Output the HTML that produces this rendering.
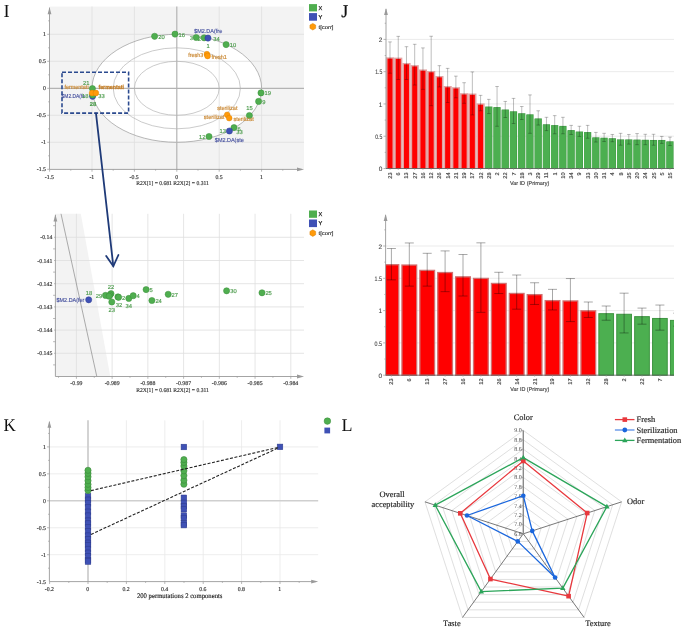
<!DOCTYPE html>
<html><head><meta charset="utf-8"><style>
html,body{margin:0;padding:0;background:#fff;}
svg{display:block;will-change:transform;} text{text-rendering:geometricPrecision;}
</style></head><body>
<svg width="685" height="630" viewBox="0 0 685 630">
<rect width="685" height="630" fill="#fff"/>
<rect x="49.50" y="6.60" width="254.50" height="162.80" fill="#f3f3f3"/>
<ellipse cx="176.80" cy="88.30" rx="84.8" ry="54" fill="#fff"/>
<line x1="92.00" y1="6.60" x2="92.00" y2="169.40" stroke="#dedede" stroke-width="0.8"/>
<line x1="49.50" y1="142.30" x2="304.00" y2="142.30" stroke="#dedede" stroke-width="0.8"/>
<line x1="134.40" y1="6.60" x2="134.40" y2="169.40" stroke="#dedede" stroke-width="0.8"/>
<line x1="49.50" y1="115.30" x2="304.00" y2="115.30" stroke="#dedede" stroke-width="0.8"/>
<line x1="219.20" y1="6.60" x2="219.20" y2="169.40" stroke="#dedede" stroke-width="0.8"/>
<line x1="49.50" y1="61.30" x2="304.00" y2="61.30" stroke="#dedede" stroke-width="0.8"/>
<line x1="261.60" y1="6.60" x2="261.60" y2="169.40" stroke="#dedede" stroke-width="0.8"/>
<line x1="49.50" y1="34.30" x2="304.00" y2="34.30" stroke="#dedede" stroke-width="0.8"/>
<ellipse cx="176.80" cy="88.30" rx="84.8" ry="54" fill="none" stroke="#9a9a9a" stroke-width="0.7"/>
<ellipse cx="176.80" cy="88.30" rx="63.60" ry="40.50" fill="none" stroke="#a8a8a8" stroke-width="0.6"/>
<ellipse cx="176.80" cy="88.30" rx="42.40" ry="27.00" fill="none" stroke="#a8a8a8" stroke-width="0.6"/>
<line x1="176.80" y1="6.60" x2="176.80" y2="169.40" stroke="#b3b3b3" stroke-width="1.2"/>
<line x1="49.50" y1="88.30" x2="304.00" y2="88.30" stroke="#b3b3b3" stroke-width="1.2"/>
<line x1="49.50" y1="7.60" x2="49.50" y2="169.40" stroke="#9a9a9a" stroke-width="0.9"/>
<line x1="49.50" y1="169.40" x2="302.00" y2="169.40" stroke="#9a9a9a" stroke-width="0.9"/>
<polygon points="49.50,7.30 47.60,14.30 51.40,14.30" fill="#9a9a9a"/>
<polygon points="304.00,169.40 297.00,167.50 297.00,171.30" fill="#9a9a9a"/>
<line x1="47.20" y1="169.30" x2="49.50" y2="169.30" stroke="#9a9a9a" stroke-width="0.7"/>
<line x1="48.20" y1="155.80" x2="49.50" y2="155.80" stroke="#9a9a9a" stroke-width="0.7"/>
<line x1="47.20" y1="142.30" x2="49.50" y2="142.30" stroke="#9a9a9a" stroke-width="0.7"/>
<line x1="48.20" y1="128.80" x2="49.50" y2="128.80" stroke="#9a9a9a" stroke-width="0.7"/>
<line x1="47.20" y1="115.30" x2="49.50" y2="115.30" stroke="#9a9a9a" stroke-width="0.7"/>
<line x1="48.20" y1="101.80" x2="49.50" y2="101.80" stroke="#9a9a9a" stroke-width="0.7"/>
<line x1="47.20" y1="88.30" x2="49.50" y2="88.30" stroke="#9a9a9a" stroke-width="0.7"/>
<line x1="48.20" y1="74.80" x2="49.50" y2="74.80" stroke="#9a9a9a" stroke-width="0.7"/>
<line x1="47.20" y1="61.30" x2="49.50" y2="61.30" stroke="#9a9a9a" stroke-width="0.7"/>
<line x1="48.20" y1="47.80" x2="49.50" y2="47.80" stroke="#9a9a9a" stroke-width="0.7"/>
<line x1="47.20" y1="34.30" x2="49.50" y2="34.30" stroke="#9a9a9a" stroke-width="0.7"/>
<line x1="48.20" y1="20.80" x2="49.50" y2="20.80" stroke="#9a9a9a" stroke-width="0.7"/>
<line x1="49.60" y1="169.40" x2="49.60" y2="171.70" stroke="#9a9a9a" stroke-width="0.7"/>
<line x1="70.80" y1="169.40" x2="70.80" y2="170.70" stroke="#9a9a9a" stroke-width="0.7"/>
<line x1="92.00" y1="169.40" x2="92.00" y2="171.70" stroke="#9a9a9a" stroke-width="0.7"/>
<line x1="113.20" y1="169.40" x2="113.20" y2="170.70" stroke="#9a9a9a" stroke-width="0.7"/>
<line x1="134.40" y1="169.40" x2="134.40" y2="171.70" stroke="#9a9a9a" stroke-width="0.7"/>
<line x1="155.60" y1="169.40" x2="155.60" y2="170.70" stroke="#9a9a9a" stroke-width="0.7"/>
<line x1="176.80" y1="169.40" x2="176.80" y2="171.70" stroke="#9a9a9a" stroke-width="0.7"/>
<line x1="198.00" y1="169.40" x2="198.00" y2="170.70" stroke="#9a9a9a" stroke-width="0.7"/>
<line x1="219.20" y1="169.40" x2="219.20" y2="171.70" stroke="#9a9a9a" stroke-width="0.7"/>
<line x1="240.40" y1="169.40" x2="240.40" y2="170.70" stroke="#9a9a9a" stroke-width="0.7"/>
<line x1="261.60" y1="169.40" x2="261.60" y2="171.70" stroke="#9a9a9a" stroke-width="0.7"/>
<line x1="282.80" y1="169.40" x2="282.80" y2="170.70" stroke="#9a9a9a" stroke-width="0.7"/>
<text x="46.00" y="36.46" font-family='"Liberation Serif", serif' font-size="5.8" fill="#333" text-anchor="end" stroke="#333" stroke-width="0.15">1</text>
<text x="46.00" y="63.46" font-family='"Liberation Serif", serif' font-size="5.8" fill="#333" text-anchor="end" stroke="#333" stroke-width="0.15">0.5</text>
<text x="46.00" y="90.46" font-family='"Liberation Serif", serif' font-size="5.8" fill="#333" text-anchor="end" stroke="#333" stroke-width="0.15">0</text>
<text x="46.00" y="117.46" font-family='"Liberation Serif", serif' font-size="5.8" fill="#333" text-anchor="end" stroke="#333" stroke-width="0.15">-0.5</text>
<text x="46.00" y="144.46" font-family='"Liberation Serif", serif' font-size="5.8" fill="#333" text-anchor="end" stroke="#333" stroke-width="0.15">-1</text>
<text x="46.00" y="171.46" font-family='"Liberation Serif", serif' font-size="5.8" fill="#333" text-anchor="end" stroke="#333" stroke-width="0.15">-1.5</text>
<text x="49.40" y="178.76" font-family='"Liberation Serif", serif' font-size="5.8" fill="#333" text-anchor="middle" stroke="#333" stroke-width="0.15">-1.5</text>
<text x="91.80" y="178.76" font-family='"Liberation Serif", serif' font-size="5.8" fill="#333" text-anchor="middle" stroke="#333" stroke-width="0.15">-1</text>
<text x="134.20" y="178.76" font-family='"Liberation Serif", serif' font-size="5.8" fill="#333" text-anchor="middle" stroke="#333" stroke-width="0.15">-0.5</text>
<text x="176.60" y="178.76" font-family='"Liberation Serif", serif' font-size="5.8" fill="#333" text-anchor="middle" stroke="#333" stroke-width="0.15">0</text>
<text x="219.00" y="178.76" font-family='"Liberation Serif", serif' font-size="5.8" fill="#333" text-anchor="middle" stroke="#333" stroke-width="0.15">0.5</text>
<text x="261.40" y="178.76" font-family='"Liberation Serif", serif' font-size="5.8" fill="#333" text-anchor="middle" stroke="#333" stroke-width="0.15">1</text>
<text x="172.50" y="184.76" font-family='"Liberation Serif", serif' font-size="5.8" fill="#333" text-anchor="middle" stroke="#333" stroke-width="0.15" textLength="72.7" lengthAdjust="spacingAndGlyphs">R2X[1] = 0.681 R2X[2] = 0.311</text>
<rect x="309.00" y="4.10" width="8.00" height="7.30" fill="#4fae4f"/>
<text x="318.50" y="9.59" font-family='"Liberation Sans", sans-serif' font-size="5.6" fill="#222" text-anchor="start" stroke="#222" stroke-width="0.25">X</text>
<rect x="309.00" y="13.10" width="8.00" height="7.60" fill="#3f51b5"/>
<text x="318.50" y="18.69" font-family='"Liberation Sans", sans-serif' font-size="5.6" fill="#222" text-anchor="start" stroke="#222" stroke-width="0.25">Y</text>
<polygon points="312.80,30.00 309.94,28.35 309.94,25.05 312.80,23.40 315.66,25.05 315.66,28.35" fill="#ff9a0a" stroke="#d97f00" stroke-width="0.5"/>
<text x="318.50" y="28.60" font-family='"Liberation Sans", sans-serif' font-size="5.3" fill="#333" text-anchor="start" stroke="#333" stroke-width="0.15" textLength="15" lengthAdjust="spacingAndGlyphs">t[corr]</text>
<circle cx="154.60" cy="36.30" r="3.1" fill="#4fae4f" stroke="#3b8f3b" stroke-width="0.5"/>
<text x="158.30" y="39.06" font-family='"Liberation Sans", sans-serif' font-size="5.8" fill="#4a9a4a" text-anchor="start" stroke="#4a9a4a" stroke-width="0.15">20</text>
<circle cx="175.00" cy="34.10" r="3.1" fill="#4fae4f" stroke="#3b8f3b" stroke-width="0.5"/>
<text x="178.60" y="36.86" font-family='"Liberation Sans", sans-serif' font-size="5.8" fill="#4a9a4a" text-anchor="start" stroke="#4a9a4a" stroke-width="0.15">16</text>
<text x="193.00" y="39.86" font-family='"Liberation Sans", sans-serif' font-size="5.8" fill="#4a9a4a" text-anchor="end" stroke="#4a9a4a" stroke-width="0.15">3</text>
<text x="199.40" y="41.06" font-family='"Liberation Sans", sans-serif' font-size="5.8" fill="#4a9a4a" text-anchor="middle" stroke="#4a9a4a" stroke-width="0.15">2</text>
<circle cx="196.20" cy="37.50" r="3.1" fill="#4fae4f" stroke="#3b8f3b" stroke-width="0.5"/>
<circle cx="204.10" cy="37.80" r="3.1" fill="#4fae4f" stroke="#3b8f3b" stroke-width="0.5"/>
<text x="213.30" y="40.66" font-family='"Liberation Sans", sans-serif' font-size="5.8" fill="#4a9a4a" text-anchor="start" stroke="#4a9a4a" stroke-width="0.15">34</text>
<circle cx="208.00" cy="38.10" r="3.1" fill="#3f51b5" stroke="#2f3f95" stroke-width="0.5"/>
<text x="208.20" y="32.76" font-family='"Liberation Sans", sans-serif' font-size="5.8" fill="#45509e" text-anchor="middle" stroke="#45509e" stroke-width="0.15" textLength="28" lengthAdjust="spacingAndGlyphs">$M2.DA(fre</text>
<text x="208.10" y="47.86" font-family='"Liberation Sans", sans-serif' font-size="5.8" fill="#4a9a4a" text-anchor="middle" stroke="#4a9a4a" stroke-width="0.15">1</text>
<circle cx="226.10" cy="44.60" r="3.1" fill="#4fae4f" stroke="#3b8f3b" stroke-width="0.5"/>
<text x="229.70" y="47.16" font-family='"Liberation Sans", sans-serif' font-size="5.8" fill="#4a9a4a" text-anchor="start" stroke="#4a9a4a" stroke-width="0.15">10</text>
<text x="203.20" y="56.56" font-family='"Liberation Sans", sans-serif' font-size="5.8" fill="#c9862f" text-anchor="end" stroke="#c9862f" stroke-width="0.15" textLength="15" lengthAdjust="spacingAndGlyphs">fresh3</text>
<text x="211.50" y="59.16" font-family='"Liberation Sans", sans-serif' font-size="5.8" fill="#c9862f" text-anchor="start" stroke="#c9862f" stroke-width="0.15" textLength="15.4" lengthAdjust="spacingAndGlyphs">fresh1</text>
<circle cx="206.90" cy="54.20" r="2.9" fill="#ff9a0a" stroke="#d97f00" stroke-width="0.4"/>
<circle cx="207.60" cy="56.00" r="2.9" fill="#ff9a0a" stroke="#d97f00" stroke-width="0.4"/>
<circle cx="261.00" cy="92.90" r="3.1" fill="#4fae4f" stroke="#3b8f3b" stroke-width="0.5"/>
<text x="264.60" y="95.46" font-family='"Liberation Sans", sans-serif' font-size="5.8" fill="#4a9a4a" text-anchor="start" stroke="#4a9a4a" stroke-width="0.15">19</text>
<circle cx="258.60" cy="101.40" r="3.1" fill="#4fae4f" stroke="#3b8f3b" stroke-width="0.5"/>
<text x="262.20" y="103.96" font-family='"Liberation Sans", sans-serif' font-size="5.8" fill="#4a9a4a" text-anchor="start" stroke="#4a9a4a" stroke-width="0.15">9</text>
<text x="249.40" y="110.46" font-family='"Liberation Sans", sans-serif' font-size="5.8" fill="#4a9a4a" text-anchor="middle" stroke="#4a9a4a" stroke-width="0.15">15</text>
<circle cx="249.40" cy="115.50" r="3.1" fill="#4fae4f" stroke="#3b8f3b" stroke-width="0.5"/>
<text x="227.30" y="110.06" font-family='"Liberation Sans", sans-serif' font-size="5.8" fill="#c9862f" text-anchor="middle" stroke="#c9862f" stroke-width="0.15" textLength="20.3" lengthAdjust="spacingAndGlyphs">sterilizat</text>
<text x="224.40" y="118.66" font-family='"Liberation Sans", sans-serif' font-size="5.8" fill="#c9862f" text-anchor="end" stroke="#c9862f" stroke-width="0.15" textLength="20.6" lengthAdjust="spacingAndGlyphs">sterilizat</text>
<text x="233.40" y="120.66" font-family='"Liberation Sans", sans-serif' font-size="5.8" fill="#c9862f" text-anchor="start" stroke="#c9862f" stroke-width="0.15" textLength="20.3" lengthAdjust="spacingAndGlyphs">sterilizat</text>
<circle cx="227.20" cy="114.80" r="2.9" fill="#ff9a0a" stroke="#d97f00" stroke-width="0.4"/>
<circle cx="229.20" cy="118.10" r="2.9" fill="#ff9a0a" stroke="#d97f00" stroke-width="0.4"/>
<text x="237.50" y="131.46" font-family='"Liberation Sans", sans-serif' font-size="5.8" fill="#4a9a4a" text-anchor="start" stroke="#4a9a4a" stroke-width="0.15">6</text>
<circle cx="234.00" cy="127.60" r="3.1" fill="#4fae4f" stroke="#3b8f3b" stroke-width="0.5"/>
<text x="226.00" y="133.36" font-family='"Liberation Sans", sans-serif' font-size="5.8" fill="#4a9a4a" text-anchor="end" stroke="#4a9a4a" stroke-width="0.15">13</text>
<text x="236.30" y="133.86" font-family='"Liberation Sans", sans-serif' font-size="5.8" fill="#4a9a4a" text-anchor="start" stroke="#4a9a4a" stroke-width="0.15">33</text>
<circle cx="229.40" cy="131.00" r="3.1" fill="#3f51b5" stroke="#2f3f95" stroke-width="0.5"/>
<text x="205.50" y="138.66" font-family='"Liberation Sans", sans-serif' font-size="5.8" fill="#4a9a4a" text-anchor="end" stroke="#4a9a4a" stroke-width="0.15">12</text>
<circle cx="209.00" cy="136.50" r="3.1" fill="#4fae4f" stroke="#3b8f3b" stroke-width="0.5"/>
<text x="229.30" y="142.16" font-family='"Liberation Sans", sans-serif' font-size="5.8" fill="#45509e" text-anchor="middle" stroke="#45509e" stroke-width="0.15" textLength="28.9" lengthAdjust="spacingAndGlyphs">$M2.DA(ste</text>
<text x="86.30" y="84.96" font-family='"Liberation Sans", sans-serif' font-size="5.8" fill="#4a9a4a" text-anchor="middle" stroke="#4a9a4a" stroke-width="0.15">21</text>
<text x="88.60" y="89.16" font-family='"Liberation Sans", sans-serif' font-size="5.8" fill="#c9862f" text-anchor="end" stroke="#c9862f" stroke-width="0.15" textLength="24.2" lengthAdjust="spacingAndGlyphs">fermentati</text>
<text x="98.40" y="89.16" font-family='"Liberation Sans", sans-serif' font-size="5.8" fill="#c47f28" text-anchor="start" font-weight="bold" stroke="#c47f28" stroke-width="0.3" textLength="25.5" lengthAdjust="spacingAndGlyphs">fermentati</text>
<text x="61.60" y="98.16" font-family='"Liberation Sans", sans-serif' font-size="5.8" fill="#45509e" text-anchor="start" stroke="#45509e" stroke-width="0.15" textLength="23.5" lengthAdjust="spacingAndGlyphs">$M2.DA(fe</text>
<text x="85.30" y="98.26" font-family='"Liberation Sans", sans-serif' font-size="5.8" fill="#4a9a4a" text-anchor="middle" stroke="#4a9a4a" stroke-width="0.15">18</text>
<text x="98.20" y="98.46" font-family='"Liberation Sans", sans-serif' font-size="5.8" fill="#4a9a4a" text-anchor="start" stroke="#4a9a4a" stroke-width="0.15">33</text>
<text x="93.00" y="105.96" font-family='"Liberation Sans", sans-serif' font-size="5.8" fill="#4a9a4a" text-anchor="middle" font-weight="bold" stroke="#4a9a4a" stroke-width="0.15">28</text>
<circle cx="92.40" cy="88.60" r="3.1" fill="#4fae4f" stroke="#3b8f3b" stroke-width="0.5"/>
<circle cx="92.60" cy="96.30" r="3.1" fill="#3f51b5" stroke="#2f3f95" stroke-width="0.5"/>
<circle cx="92.70" cy="95.00" r="3.1" fill="#4fae4f" stroke="#3b8f3b" stroke-width="0.5"/>
<circle cx="92.10" cy="93.00" r="2.9" fill="#ff9a0a" stroke="#d97f00" stroke-width="0.4"/>
<circle cx="95.90" cy="93.00" r="2.9" fill="#ff9a0a" stroke="#d97f00" stroke-width="0.4"/>
<rect x="62.0" y="72.2" width="66.6" height="40.9" fill="none" stroke="#2b4a8f" stroke-width="1.6" stroke-dasharray="4,2"/>
<polygon points="55.4,213.8 80.8,213.8 110.3,376.5 55.4,376.5" fill="#f3f3f3"/>
<line x1="76.40" y1="213.80" x2="76.40" y2="376.50" stroke="#dedede" stroke-width="0.8"/>
<line x1="112.13" y1="213.80" x2="112.13" y2="376.50" stroke="#dedede" stroke-width="0.8"/>
<line x1="147.87" y1="213.80" x2="147.87" y2="376.50" stroke="#dedede" stroke-width="0.8"/>
<line x1="183.60" y1="213.80" x2="183.60" y2="376.50" stroke="#dedede" stroke-width="0.8"/>
<line x1="219.33" y1="213.80" x2="219.33" y2="376.50" stroke="#dedede" stroke-width="0.8"/>
<line x1="255.07" y1="213.80" x2="255.07" y2="376.50" stroke="#dedede" stroke-width="0.8"/>
<line x1="290.80" y1="213.80" x2="290.80" y2="376.50" stroke="#dedede" stroke-width="0.8"/>
<line x1="55.40" y1="237.30" x2="304.00" y2="237.30" stroke="#dedede" stroke-width="0.8"/>
<line x1="55.40" y1="260.50" x2="304.00" y2="260.50" stroke="#dedede" stroke-width="0.8"/>
<line x1="55.40" y1="283.70" x2="304.00" y2="283.70" stroke="#dedede" stroke-width="0.8"/>
<line x1="55.40" y1="306.90" x2="304.00" y2="306.90" stroke="#dedede" stroke-width="0.8"/>
<line x1="55.40" y1="330.10" x2="304.00" y2="330.10" stroke="#dedede" stroke-width="0.8"/>
<line x1="55.40" y1="353.30" x2="304.00" y2="353.30" stroke="#dedede" stroke-width="0.8"/>
<line x1="61.00" y1="213.80" x2="96.80" y2="376.50" stroke="#8a8a8a" stroke-width="0.7"/>
<line x1="55.40" y1="214.80" x2="55.40" y2="376.50" stroke="#9a9a9a" stroke-width="0.9"/>
<line x1="55.40" y1="376.50" x2="302.00" y2="376.50" stroke="#9a9a9a" stroke-width="0.9"/>
<polygon points="55.40,214.50 53.50,221.50 57.30,221.50" fill="#9a9a9a"/>
<polygon points="304.00,376.50 297.00,374.60 297.00,378.40" fill="#9a9a9a"/>
<line x1="53.10" y1="225.70" x2="55.40" y2="225.70" stroke="#9a9a9a" stroke-width="0.7"/>
<line x1="54.10" y1="237.30" x2="55.40" y2="237.30" stroke="#9a9a9a" stroke-width="0.7"/>
<line x1="53.10" y1="248.90" x2="55.40" y2="248.90" stroke="#9a9a9a" stroke-width="0.7"/>
<line x1="54.10" y1="260.50" x2="55.40" y2="260.50" stroke="#9a9a9a" stroke-width="0.7"/>
<line x1="53.10" y1="272.10" x2="55.40" y2="272.10" stroke="#9a9a9a" stroke-width="0.7"/>
<line x1="54.10" y1="283.70" x2="55.40" y2="283.70" stroke="#9a9a9a" stroke-width="0.7"/>
<line x1="53.10" y1="295.30" x2="55.40" y2="295.30" stroke="#9a9a9a" stroke-width="0.7"/>
<line x1="54.10" y1="306.90" x2="55.40" y2="306.90" stroke="#9a9a9a" stroke-width="0.7"/>
<line x1="53.10" y1="318.50" x2="55.40" y2="318.50" stroke="#9a9a9a" stroke-width="0.7"/>
<line x1="54.10" y1="330.10" x2="55.40" y2="330.10" stroke="#9a9a9a" stroke-width="0.7"/>
<line x1="53.10" y1="341.70" x2="55.40" y2="341.70" stroke="#9a9a9a" stroke-width="0.7"/>
<line x1="54.10" y1="353.30" x2="55.40" y2="353.30" stroke="#9a9a9a" stroke-width="0.7"/>
<line x1="53.10" y1="364.90" x2="55.40" y2="364.90" stroke="#9a9a9a" stroke-width="0.7"/>
<line x1="58.53" y1="376.50" x2="58.53" y2="377.80" stroke="#9a9a9a" stroke-width="0.7"/>
<line x1="76.40" y1="376.50" x2="76.40" y2="378.80" stroke="#9a9a9a" stroke-width="0.7"/>
<line x1="94.27" y1="376.50" x2="94.27" y2="377.80" stroke="#9a9a9a" stroke-width="0.7"/>
<line x1="112.13" y1="376.50" x2="112.13" y2="378.80" stroke="#9a9a9a" stroke-width="0.7"/>
<line x1="130.00" y1="376.50" x2="130.00" y2="377.80" stroke="#9a9a9a" stroke-width="0.7"/>
<line x1="147.86" y1="376.50" x2="147.86" y2="378.80" stroke="#9a9a9a" stroke-width="0.7"/>
<line x1="165.73" y1="376.50" x2="165.73" y2="377.80" stroke="#9a9a9a" stroke-width="0.7"/>
<line x1="183.60" y1="376.50" x2="183.60" y2="378.80" stroke="#9a9a9a" stroke-width="0.7"/>
<line x1="201.46" y1="376.50" x2="201.46" y2="377.80" stroke="#9a9a9a" stroke-width="0.7"/>
<line x1="219.33" y1="376.50" x2="219.33" y2="378.80" stroke="#9a9a9a" stroke-width="0.7"/>
<line x1="237.19" y1="376.50" x2="237.19" y2="377.80" stroke="#9a9a9a" stroke-width="0.7"/>
<line x1="255.06" y1="376.50" x2="255.06" y2="378.80" stroke="#9a9a9a" stroke-width="0.7"/>
<line x1="272.93" y1="376.50" x2="272.93" y2="377.80" stroke="#9a9a9a" stroke-width="0.7"/>
<line x1="290.79" y1="376.50" x2="290.79" y2="378.80" stroke="#9a9a9a" stroke-width="0.7"/>
<text x="52.30" y="239.46" font-family='"Liberation Serif", serif' font-size="5.8" fill="#333" text-anchor="end" stroke="#333" stroke-width="0.15">-0.14</text>
<text x="52.30" y="262.66" font-family='"Liberation Serif", serif' font-size="5.8" fill="#333" text-anchor="end" stroke="#333" stroke-width="0.15">-0.141</text>
<text x="52.30" y="285.86" font-family='"Liberation Serif", serif' font-size="5.8" fill="#333" text-anchor="end" stroke="#333" stroke-width="0.15">-0.142</text>
<text x="52.30" y="309.06" font-family='"Liberation Serif", serif' font-size="5.8" fill="#333" text-anchor="end" stroke="#333" stroke-width="0.15">-0.143</text>
<text x="52.30" y="332.26" font-family='"Liberation Serif", serif' font-size="5.8" fill="#333" text-anchor="end" stroke="#333" stroke-width="0.15">-0.144</text>
<text x="52.30" y="355.46" font-family='"Liberation Serif", serif' font-size="5.8" fill="#333" text-anchor="end" stroke="#333" stroke-width="0.15">-0.145</text>
<text x="76.40" y="384.96" font-family='"Liberation Serif", serif' font-size="5.8" fill="#333" text-anchor="middle" stroke="#333" stroke-width="0.15">-0.99</text>
<text x="112.13" y="384.96" font-family='"Liberation Serif", serif' font-size="5.8" fill="#333" text-anchor="middle" stroke="#333" stroke-width="0.15">-0.989</text>
<text x="147.87" y="384.96" font-family='"Liberation Serif", serif' font-size="5.8" fill="#333" text-anchor="middle" stroke="#333" stroke-width="0.15">-0.988</text>
<text x="183.60" y="384.96" font-family='"Liberation Serif", serif' font-size="5.8" fill="#333" text-anchor="middle" stroke="#333" stroke-width="0.15">-0.987</text>
<text x="219.33" y="384.96" font-family='"Liberation Serif", serif' font-size="5.8" fill="#333" text-anchor="middle" stroke="#333" stroke-width="0.15">-0.986</text>
<text x="255.07" y="384.96" font-family='"Liberation Serif", serif' font-size="5.8" fill="#333" text-anchor="middle" stroke="#333" stroke-width="0.15">-0.985</text>
<text x="290.80" y="384.96" font-family='"Liberation Serif", serif' font-size="5.8" fill="#333" text-anchor="middle" stroke="#333" stroke-width="0.15">-0.984</text>
<text x="172.50" y="392.06" font-family='"Liberation Serif", serif' font-size="5.8" fill="#333" text-anchor="middle" stroke="#333" stroke-width="0.15" textLength="72.7" lengthAdjust="spacingAndGlyphs">R2X[1] = 0.681 R2X[2] = 0.311</text>
<rect x="309.00" y="210.50" width="8.00" height="7.30" fill="#4fae4f"/>
<text x="318.50" y="215.99" font-family='"Liberation Sans", sans-serif' font-size="5.6" fill="#222" text-anchor="start" stroke="#222" stroke-width="0.25">X</text>
<rect x="309.00" y="219.50" width="8.00" height="7.60" fill="#3f51b5"/>
<text x="318.50" y="225.09" font-family='"Liberation Sans", sans-serif' font-size="5.6" fill="#222" text-anchor="start" stroke="#222" stroke-width="0.25">Y</text>
<polygon points="312.80,236.40 309.94,234.75 309.94,231.45 312.80,229.80 315.66,231.45 315.66,234.75" fill="#ff9a0a" stroke="#d97f00" stroke-width="0.5"/>
<text x="318.50" y="235.00" font-family='"Liberation Sans", sans-serif' font-size="5.3" fill="#333" text-anchor="start" stroke="#333" stroke-width="0.15" textLength="15" lengthAdjust="spacingAndGlyphs">t[corr]</text>
<text x="84.30" y="301.86" font-family='"Liberation Sans", sans-serif' font-size="5.8" fill="#45509e" text-anchor="end" stroke="#45509e" stroke-width="0.15" textLength="27.7" lengthAdjust="spacingAndGlyphs">$M2.DA(fer</text>
<text x="89.10" y="294.66" font-family='"Liberation Sans", sans-serif' font-size="5.8" fill="#4a9a4a" text-anchor="middle" stroke="#4a9a4a" stroke-width="0.15">18</text>
<circle cx="88.70" cy="299.80" r="3.1" fill="#3f51b5" stroke="#2f3f95" stroke-width="0.5"/>
<text x="102.30" y="297.86" font-family='"Liberation Sans", sans-serif' font-size="5.8" fill="#4a9a4a" text-anchor="end" stroke="#4a9a4a" stroke-width="0.15">29</text>
<text x="111.00" y="288.56" font-family='"Liberation Sans", sans-serif' font-size="5.8" fill="#4a9a4a" text-anchor="middle" stroke="#4a9a4a" stroke-width="0.15">22</text>
<text x="111.80" y="311.86" font-family='"Liberation Sans", sans-serif' font-size="5.8" fill="#4a9a4a" text-anchor="middle" stroke="#4a9a4a" stroke-width="0.15">23</text>
<text x="119.00" y="306.86" font-family='"Liberation Sans", sans-serif' font-size="5.8" fill="#4a9a4a" text-anchor="middle" stroke="#4a9a4a" stroke-width="0.15">32</text>
<text x="122.00" y="299.66" font-family='"Liberation Sans", sans-serif' font-size="5.8" fill="#4a9a4a" text-anchor="start" stroke="#4a9a4a" stroke-width="0.15">2</text>
<text x="128.80" y="308.36" font-family='"Liberation Sans", sans-serif' font-size="5.8" fill="#4a9a4a" text-anchor="middle" stroke="#4a9a4a" stroke-width="0.15">34</text>
<text x="136.40" y="298.16" font-family='"Liberation Sans", sans-serif' font-size="5.8" fill="#4a9a4a" text-anchor="start" stroke="#4a9a4a" stroke-width="0.15">4</text>
<text x="149.40" y="292.16" font-family='"Liberation Sans", sans-serif' font-size="5.8" fill="#4a9a4a" text-anchor="start" stroke="#4a9a4a" stroke-width="0.15">5</text>
<text x="155.40" y="303.16" font-family='"Liberation Sans", sans-serif' font-size="5.8" fill="#4a9a4a" text-anchor="start" stroke="#4a9a4a" stroke-width="0.15">24</text>
<text x="171.60" y="296.86" font-family='"Liberation Sans", sans-serif' font-size="5.8" fill="#4a9a4a" text-anchor="start" stroke="#4a9a4a" stroke-width="0.15">27</text>
<text x="230.20" y="293.26" font-family='"Liberation Sans", sans-serif' font-size="5.8" fill="#4a9a4a" text-anchor="start" stroke="#4a9a4a" stroke-width="0.15">30</text>
<text x="265.40" y="295.26" font-family='"Liberation Sans", sans-serif' font-size="5.8" fill="#4a9a4a" text-anchor="start" stroke="#4a9a4a" stroke-width="0.15">25</text>
<circle cx="105.50" cy="295.40" r="3.1" fill="#4fae4f" stroke="#3b8f3b" stroke-width="0.5"/>
<circle cx="111.00" cy="293.70" r="3.1" fill="#4fae4f" stroke="#3b8f3b" stroke-width="0.5"/>
<circle cx="109.90" cy="295.00" r="3.1" fill="#4fae4f" stroke="#3b8f3b" stroke-width="0.5"/>
<circle cx="109.10" cy="296.20" r="3.1" fill="#4fae4f" stroke="#3b8f3b" stroke-width="0.5"/>
<circle cx="111.80" cy="302.00" r="3.1" fill="#4fae4f" stroke="#3b8f3b" stroke-width="0.5"/>
<circle cx="117.90" cy="296.90" r="3.1" fill="#4fae4f" stroke="#3b8f3b" stroke-width="0.5"/>
<circle cx="118.60" cy="297.30" r="3.1" fill="#4fae4f" stroke="#3b8f3b" stroke-width="0.5"/>
<circle cx="128.80" cy="298.40" r="3.1" fill="#4fae4f" stroke="#3b8f3b" stroke-width="0.5"/>
<circle cx="133.20" cy="295.70" r="3.1" fill="#4fae4f" stroke="#3b8f3b" stroke-width="0.5"/>
<circle cx="146.10" cy="289.60" r="3.1" fill="#4fae4f" stroke="#3b8f3b" stroke-width="0.5"/>
<circle cx="151.90" cy="300.50" r="3.1" fill="#4fae4f" stroke="#3b8f3b" stroke-width="0.5"/>
<circle cx="168.20" cy="294.30" r="3.1" fill="#4fae4f" stroke="#3b8f3b" stroke-width="0.5"/>
<circle cx="226.60" cy="290.80" r="3.1" fill="#4fae4f" stroke="#3b8f3b" stroke-width="0.5"/>
<circle cx="262.00" cy="292.80" r="3.1" fill="#4fae4f" stroke="#3b8f3b" stroke-width="0.5"/>
<line x1="96.00" y1="113.40" x2="113.30" y2="266.00" stroke="#1f3a78" stroke-width="1.8" stroke-linecap="round"/>
<polyline points="106.2,256.0 113.3,266.3 118.4,255.0" fill="none" stroke="#1f3a78" stroke-width="1.8" stroke-linecap="round" stroke-linejoin="miter"/>
<line x1="386.00" y1="136.22" x2="674.00" y2="136.22" stroke="#e6e6e6" stroke-width="0.8"/>
<line x1="386.00" y1="103.95" x2="674.00" y2="103.95" stroke="#e6e6e6" stroke-width="0.8"/>
<line x1="386.00" y1="71.68" x2="674.00" y2="71.68" stroke="#e6e6e6" stroke-width="0.8"/>
<line x1="386.00" y1="39.40" x2="674.00" y2="39.40" stroke="#e6e6e6" stroke-width="0.8"/>
<rect x="385.90" y="57.30" width="8.20" height="111.20" fill="#e2a4a4"/>
<rect x="387.50" y="58.60" width="5.00" height="109.90" fill="#ff0000"/>
<rect x="394.13" y="57.63" width="8.20" height="110.87" fill="#e2a4a4"/>
<rect x="395.74" y="58.93" width="5.00" height="109.57" fill="#ff0000"/>
<rect x="402.37" y="62.98" width="8.20" height="105.52" fill="#e2a4a4"/>
<rect x="403.97" y="64.28" width="5.00" height="104.22" fill="#ff0000"/>
<rect x="410.60" y="65.11" width="8.20" height="103.39" fill="#e2a4a4"/>
<rect x="412.20" y="66.41" width="5.00" height="102.09" fill="#ff0000"/>
<rect x="418.84" y="69.44" width="8.20" height="99.06" fill="#e2a4a4"/>
<rect x="420.44" y="70.74" width="5.00" height="97.76" fill="#ff0000"/>
<rect x="427.07" y="70.99" width="8.20" height="97.51" fill="#e2a4a4"/>
<rect x="428.68" y="72.29" width="5.00" height="96.21" fill="#ff0000"/>
<rect x="435.31" y="76.02" width="8.20" height="92.48" fill="#e2a4a4"/>
<rect x="436.91" y="77.32" width="5.00" height="91.18" fill="#ff0000"/>
<rect x="443.54" y="86.03" width="8.20" height="82.47" fill="#e2a4a4"/>
<rect x="445.14" y="87.33" width="5.00" height="81.17" fill="#ff0000"/>
<rect x="451.78" y="87.19" width="8.20" height="81.31" fill="#e2a4a4"/>
<rect x="453.38" y="88.49" width="5.00" height="80.01" fill="#ff0000"/>
<rect x="460.01" y="93.19" width="8.20" height="75.31" fill="#e2a4a4"/>
<rect x="461.62" y="94.49" width="5.00" height="74.01" fill="#ff0000"/>
<rect x="468.25" y="93.52" width="8.20" height="74.98" fill="#e2a4a4"/>
<rect x="469.85" y="94.82" width="5.00" height="73.68" fill="#ff0000"/>
<rect x="476.48" y="103.39" width="8.20" height="65.11" fill="#e2a4a4"/>
<rect x="478.08" y="104.69" width="5.00" height="63.81" fill="#ff0000"/>
<rect x="485.22" y="106.53" width="7.20" height="61.97" fill="#3f9a43"/>
<rect x="485.22" y="107.13" width="6.60" height="61.37" fill="#4caf50"/>
<rect x="493.45" y="107.11" width="7.20" height="61.39" fill="#3f9a43"/>
<rect x="493.45" y="107.71" width="6.60" height="60.79" fill="#4caf50"/>
<rect x="501.69" y="109.50" width="7.20" height="59.00" fill="#3f9a43"/>
<rect x="501.69" y="110.10" width="6.60" height="58.40" fill="#4caf50"/>
<rect x="509.92" y="111.31" width="7.20" height="57.19" fill="#3f9a43"/>
<rect x="509.92" y="111.91" width="6.60" height="56.59" fill="#4caf50"/>
<rect x="518.16" y="113.25" width="7.20" height="55.25" fill="#3f9a43"/>
<rect x="518.16" y="113.85" width="6.60" height="54.65" fill="#4caf50"/>
<rect x="526.39" y="114.34" width="7.20" height="54.16" fill="#3f9a43"/>
<rect x="526.39" y="114.94" width="6.60" height="53.56" fill="#4caf50"/>
<rect x="534.63" y="118.41" width="7.20" height="50.09" fill="#3f9a43"/>
<rect x="534.63" y="119.01" width="6.60" height="49.49" fill="#4caf50"/>
<rect x="542.86" y="124.28" width="7.20" height="44.22" fill="#3f9a43"/>
<rect x="542.86" y="124.88" width="6.60" height="43.62" fill="#4caf50"/>
<rect x="551.10" y="125.12" width="7.20" height="43.38" fill="#3f9a43"/>
<rect x="551.10" y="125.72" width="6.60" height="42.78" fill="#4caf50"/>
<rect x="559.33" y="125.90" width="7.20" height="42.60" fill="#3f9a43"/>
<rect x="559.33" y="126.50" width="6.60" height="42.00" fill="#4caf50"/>
<rect x="567.57" y="130.09" width="7.20" height="38.41" fill="#3f9a43"/>
<rect x="567.57" y="130.69" width="6.60" height="37.81" fill="#4caf50"/>
<rect x="575.80" y="131.51" width="7.20" height="36.99" fill="#3f9a43"/>
<rect x="575.80" y="132.11" width="6.60" height="36.39" fill="#4caf50"/>
<rect x="584.04" y="132.09" width="7.20" height="36.41" fill="#3f9a43"/>
<rect x="584.04" y="132.69" width="6.60" height="35.81" fill="#4caf50"/>
<rect x="592.27" y="137.32" width="7.20" height="31.18" fill="#3f9a43"/>
<rect x="592.27" y="137.92" width="6.60" height="30.58" fill="#4caf50"/>
<rect x="600.51" y="137.71" width="7.20" height="30.79" fill="#3f9a43"/>
<rect x="600.51" y="138.31" width="6.60" height="30.19" fill="#4caf50"/>
<rect x="608.75" y="138.23" width="7.20" height="30.27" fill="#3f9a43"/>
<rect x="608.75" y="138.83" width="6.60" height="29.67" fill="#4caf50"/>
<rect x="616.98" y="139.39" width="7.20" height="29.11" fill="#3f9a43"/>
<rect x="616.98" y="139.99" width="6.60" height="28.51" fill="#4caf50"/>
<rect x="625.22" y="139.39" width="7.20" height="29.11" fill="#3f9a43"/>
<rect x="625.22" y="139.99" width="6.60" height="28.51" fill="#4caf50"/>
<rect x="633.45" y="139.58" width="7.20" height="28.92" fill="#3f9a43"/>
<rect x="633.45" y="140.18" width="6.60" height="28.32" fill="#4caf50"/>
<rect x="641.68" y="139.78" width="7.20" height="28.72" fill="#3f9a43"/>
<rect x="641.68" y="140.38" width="6.60" height="28.12" fill="#4caf50"/>
<rect x="649.92" y="139.97" width="7.20" height="28.53" fill="#3f9a43"/>
<rect x="649.92" y="140.57" width="6.60" height="27.93" fill="#4caf50"/>
<rect x="658.15" y="139.97" width="7.20" height="28.53" fill="#3f9a43"/>
<rect x="658.15" y="140.57" width="6.60" height="27.93" fill="#4caf50"/>
<rect x="666.39" y="141.32" width="7.20" height="27.18" fill="#3f9a43"/>
<rect x="666.39" y="141.92" width="6.60" height="26.58" fill="#4caf50"/>
<line x1="390.00" y1="41.92" x2="390.00" y2="73.22" stroke="rgba(0,0,0,0.33)" stroke-width="0.8"/>
<line x1="388.20" y1="41.92" x2="391.80" y2="41.92" stroke="rgba(0,0,0,0.33)" stroke-width="0.8"/>
<line x1="388.20" y1="73.22" x2="391.80" y2="73.22" stroke="rgba(0,0,0,0.33)" stroke-width="0.8"/>
<line x1="398.24" y1="36.37" x2="398.24" y2="79.49" stroke="rgba(0,0,0,0.33)" stroke-width="0.8"/>
<line x1="396.44" y1="36.37" x2="400.04" y2="36.37" stroke="rgba(0,0,0,0.33)" stroke-width="0.8"/>
<line x1="396.44" y1="79.49" x2="400.04" y2="79.49" stroke="rgba(0,0,0,0.33)" stroke-width="0.8"/>
<line x1="406.47" y1="46.69" x2="406.47" y2="79.49" stroke="rgba(0,0,0,0.33)" stroke-width="0.8"/>
<line x1="404.67" y1="46.69" x2="408.27" y2="46.69" stroke="rgba(0,0,0,0.33)" stroke-width="0.8"/>
<line x1="404.67" y1="79.49" x2="408.27" y2="79.49" stroke="rgba(0,0,0,0.33)" stroke-width="0.8"/>
<line x1="414.70" y1="44.31" x2="414.70" y2="85.04" stroke="rgba(0,0,0,0.33)" stroke-width="0.8"/>
<line x1="412.90" y1="44.31" x2="416.50" y2="44.31" stroke="rgba(0,0,0,0.33)" stroke-width="0.8"/>
<line x1="412.90" y1="85.04" x2="416.50" y2="85.04" stroke="rgba(0,0,0,0.33)" stroke-width="0.8"/>
<line x1="422.94" y1="47.92" x2="422.94" y2="89.36" stroke="rgba(0,0,0,0.33)" stroke-width="0.8"/>
<line x1="421.14" y1="47.92" x2="424.74" y2="47.92" stroke="rgba(0,0,0,0.33)" stroke-width="0.8"/>
<line x1="421.14" y1="89.36" x2="424.74" y2="89.36" stroke="rgba(0,0,0,0.33)" stroke-width="0.8"/>
<line x1="431.18" y1="36.24" x2="431.18" y2="105.69" stroke="rgba(0,0,0,0.33)" stroke-width="0.8"/>
<line x1="429.38" y1="36.24" x2="432.98" y2="36.24" stroke="rgba(0,0,0,0.33)" stroke-width="0.8"/>
<line x1="429.38" y1="105.69" x2="432.98" y2="105.69" stroke="rgba(0,0,0,0.33)" stroke-width="0.8"/>
<line x1="439.41" y1="65.67" x2="439.41" y2="86.91" stroke="rgba(0,0,0,0.33)" stroke-width="0.8"/>
<line x1="437.61" y1="65.67" x2="441.21" y2="65.67" stroke="rgba(0,0,0,0.33)" stroke-width="0.8"/>
<line x1="437.61" y1="86.91" x2="441.21" y2="86.91" stroke="rgba(0,0,0,0.33)" stroke-width="0.8"/>
<line x1="447.64" y1="68.38" x2="447.64" y2="102.53" stroke="rgba(0,0,0,0.33)" stroke-width="0.8"/>
<line x1="445.84" y1="68.38" x2="449.44" y2="68.38" stroke="rgba(0,0,0,0.33)" stroke-width="0.8"/>
<line x1="445.84" y1="102.53" x2="449.44" y2="102.53" stroke="rgba(0,0,0,0.33)" stroke-width="0.8"/>
<line x1="455.88" y1="76.13" x2="455.88" y2="97.82" stroke="rgba(0,0,0,0.33)" stroke-width="0.8"/>
<line x1="454.08" y1="76.13" x2="457.68" y2="76.13" stroke="rgba(0,0,0,0.33)" stroke-width="0.8"/>
<line x1="454.08" y1="97.82" x2="457.68" y2="97.82" stroke="rgba(0,0,0,0.33)" stroke-width="0.8"/>
<line x1="464.12" y1="82.71" x2="464.12" y2="103.30" stroke="rgba(0,0,0,0.33)" stroke-width="0.8"/>
<line x1="462.31" y1="82.71" x2="465.92" y2="82.71" stroke="rgba(0,0,0,0.33)" stroke-width="0.8"/>
<line x1="462.31" y1="103.30" x2="465.92" y2="103.30" stroke="rgba(0,0,0,0.33)" stroke-width="0.8"/>
<line x1="472.35" y1="71.93" x2="472.35" y2="114.92" stroke="rgba(0,0,0,0.33)" stroke-width="0.8"/>
<line x1="470.55" y1="71.93" x2="474.15" y2="71.93" stroke="rgba(0,0,0,0.33)" stroke-width="0.8"/>
<line x1="470.55" y1="114.92" x2="474.15" y2="114.92" stroke="rgba(0,0,0,0.33)" stroke-width="0.8"/>
<line x1="480.58" y1="95.36" x2="480.58" y2="110.79" stroke="rgba(0,0,0,0.33)" stroke-width="0.8"/>
<line x1="478.78" y1="95.36" x2="482.38" y2="95.36" stroke="rgba(0,0,0,0.33)" stroke-width="0.8"/>
<line x1="478.78" y1="110.79" x2="482.38" y2="110.79" stroke="rgba(0,0,0,0.33)" stroke-width="0.8"/>
<line x1="488.82" y1="99.37" x2="488.82" y2="113.57" stroke="rgba(0,0,0,0.33)" stroke-width="0.8"/>
<line x1="487.02" y1="99.37" x2="490.62" y2="99.37" stroke="rgba(0,0,0,0.33)" stroke-width="0.8"/>
<line x1="487.02" y1="113.57" x2="490.62" y2="113.57" stroke="rgba(0,0,0,0.33)" stroke-width="0.8"/>
<line x1="497.06" y1="86.52" x2="497.06" y2="126.28" stroke="rgba(0,0,0,0.33)" stroke-width="0.8"/>
<line x1="495.25" y1="86.52" x2="498.86" y2="86.52" stroke="rgba(0,0,0,0.33)" stroke-width="0.8"/>
<line x1="495.25" y1="126.28" x2="498.86" y2="126.28" stroke="rgba(0,0,0,0.33)" stroke-width="0.8"/>
<line x1="505.29" y1="101.43" x2="505.29" y2="117.51" stroke="rgba(0,0,0,0.33)" stroke-width="0.8"/>
<line x1="503.49" y1="101.43" x2="507.09" y2="101.43" stroke="rgba(0,0,0,0.33)" stroke-width="0.8"/>
<line x1="503.49" y1="117.51" x2="507.09" y2="117.51" stroke="rgba(0,0,0,0.33)" stroke-width="0.8"/>
<line x1="513.52" y1="98.40" x2="513.52" y2="123.51" stroke="rgba(0,0,0,0.33)" stroke-width="0.8"/>
<line x1="511.72" y1="98.40" x2="515.32" y2="98.40" stroke="rgba(0,0,0,0.33)" stroke-width="0.8"/>
<line x1="511.72" y1="123.51" x2="515.32" y2="123.51" stroke="rgba(0,0,0,0.33)" stroke-width="0.8"/>
<line x1="521.76" y1="106.53" x2="521.76" y2="119.51" stroke="rgba(0,0,0,0.33)" stroke-width="0.8"/>
<line x1="519.96" y1="106.53" x2="523.56" y2="106.53" stroke="rgba(0,0,0,0.33)" stroke-width="0.8"/>
<line x1="519.96" y1="119.51" x2="523.56" y2="119.51" stroke="rgba(0,0,0,0.33)" stroke-width="0.8"/>
<line x1="530.00" y1="94.91" x2="530.00" y2="133.32" stroke="rgba(0,0,0,0.33)" stroke-width="0.8"/>
<line x1="528.20" y1="94.91" x2="531.79" y2="94.91" stroke="rgba(0,0,0,0.33)" stroke-width="0.8"/>
<line x1="528.20" y1="133.32" x2="531.79" y2="133.32" stroke="rgba(0,0,0,0.33)" stroke-width="0.8"/>
<line x1="538.23" y1="110.79" x2="538.23" y2="125.06" stroke="rgba(0,0,0,0.33)" stroke-width="0.8"/>
<line x1="536.43" y1="110.79" x2="540.03" y2="110.79" stroke="rgba(0,0,0,0.33)" stroke-width="0.8"/>
<line x1="536.43" y1="125.06" x2="540.03" y2="125.06" stroke="rgba(0,0,0,0.33)" stroke-width="0.8"/>
<line x1="546.46" y1="117.31" x2="546.46" y2="130.61" stroke="rgba(0,0,0,0.33)" stroke-width="0.8"/>
<line x1="544.66" y1="117.31" x2="548.26" y2="117.31" stroke="rgba(0,0,0,0.33)" stroke-width="0.8"/>
<line x1="544.66" y1="130.61" x2="548.26" y2="130.61" stroke="rgba(0,0,0,0.33)" stroke-width="0.8"/>
<line x1="554.70" y1="115.63" x2="554.70" y2="133.77" stroke="rgba(0,0,0,0.33)" stroke-width="0.8"/>
<line x1="552.90" y1="115.63" x2="556.50" y2="115.63" stroke="rgba(0,0,0,0.33)" stroke-width="0.8"/>
<line x1="552.90" y1="133.77" x2="556.50" y2="133.77" stroke="rgba(0,0,0,0.33)" stroke-width="0.8"/>
<line x1="562.93" y1="117.31" x2="562.93" y2="133.77" stroke="rgba(0,0,0,0.33)" stroke-width="0.8"/>
<line x1="561.13" y1="117.31" x2="564.73" y2="117.31" stroke="rgba(0,0,0,0.33)" stroke-width="0.8"/>
<line x1="561.13" y1="133.77" x2="564.73" y2="133.77" stroke="rgba(0,0,0,0.33)" stroke-width="0.8"/>
<line x1="571.17" y1="125.38" x2="571.17" y2="134.48" stroke="rgba(0,0,0,0.33)" stroke-width="0.8"/>
<line x1="569.37" y1="125.38" x2="572.97" y2="125.38" stroke="rgba(0,0,0,0.33)" stroke-width="0.8"/>
<line x1="569.37" y1="134.48" x2="572.97" y2="134.48" stroke="rgba(0,0,0,0.33)" stroke-width="0.8"/>
<line x1="579.40" y1="126.28" x2="579.40" y2="136.42" stroke="rgba(0,0,0,0.33)" stroke-width="0.8"/>
<line x1="577.61" y1="126.28" x2="581.20" y2="126.28" stroke="rgba(0,0,0,0.33)" stroke-width="0.8"/>
<line x1="577.61" y1="136.42" x2="581.20" y2="136.42" stroke="rgba(0,0,0,0.33)" stroke-width="0.8"/>
<line x1="587.64" y1="125.38" x2="587.64" y2="138.23" stroke="rgba(0,0,0,0.33)" stroke-width="0.8"/>
<line x1="585.84" y1="125.38" x2="589.44" y2="125.38" stroke="rgba(0,0,0,0.33)" stroke-width="0.8"/>
<line x1="585.84" y1="138.23" x2="589.44" y2="138.23" stroke="rgba(0,0,0,0.33)" stroke-width="0.8"/>
<line x1="595.88" y1="132.42" x2="595.88" y2="142.03" stroke="rgba(0,0,0,0.33)" stroke-width="0.8"/>
<line x1="594.08" y1="132.42" x2="597.67" y2="132.42" stroke="rgba(0,0,0,0.33)" stroke-width="0.8"/>
<line x1="594.08" y1="142.03" x2="597.67" y2="142.03" stroke="rgba(0,0,0,0.33)" stroke-width="0.8"/>
<line x1="604.11" y1="133.32" x2="604.11" y2="141.52" stroke="rgba(0,0,0,0.33)" stroke-width="0.8"/>
<line x1="602.31" y1="133.32" x2="605.91" y2="133.32" stroke="rgba(0,0,0,0.33)" stroke-width="0.8"/>
<line x1="602.31" y1="141.52" x2="605.91" y2="141.52" stroke="rgba(0,0,0,0.33)" stroke-width="0.8"/>
<line x1="612.35" y1="134.48" x2="612.35" y2="141.71" stroke="rgba(0,0,0,0.33)" stroke-width="0.8"/>
<line x1="610.55" y1="134.48" x2="614.14" y2="134.48" stroke="rgba(0,0,0,0.33)" stroke-width="0.8"/>
<line x1="610.55" y1="141.71" x2="614.14" y2="141.71" stroke="rgba(0,0,0,0.33)" stroke-width="0.8"/>
<line x1="620.58" y1="133.32" x2="620.58" y2="145.20" stroke="rgba(0,0,0,0.33)" stroke-width="0.8"/>
<line x1="618.78" y1="133.32" x2="622.38" y2="133.32" stroke="rgba(0,0,0,0.33)" stroke-width="0.8"/>
<line x1="618.78" y1="145.20" x2="622.38" y2="145.20" stroke="rgba(0,0,0,0.33)" stroke-width="0.8"/>
<line x1="628.82" y1="134.48" x2="628.82" y2="144.10" stroke="rgba(0,0,0,0.33)" stroke-width="0.8"/>
<line x1="627.02" y1="134.48" x2="630.62" y2="134.48" stroke="rgba(0,0,0,0.33)" stroke-width="0.8"/>
<line x1="627.02" y1="144.10" x2="630.62" y2="144.10" stroke="rgba(0,0,0,0.33)" stroke-width="0.8"/>
<line x1="637.05" y1="133.58" x2="637.05" y2="144.68" stroke="rgba(0,0,0,0.33)" stroke-width="0.8"/>
<line x1="635.25" y1="133.58" x2="638.85" y2="133.58" stroke="rgba(0,0,0,0.33)" stroke-width="0.8"/>
<line x1="635.25" y1="144.68" x2="638.85" y2="144.68" stroke="rgba(0,0,0,0.33)" stroke-width="0.8"/>
<line x1="645.28" y1="134.29" x2="645.28" y2="144.68" stroke="rgba(0,0,0,0.33)" stroke-width="0.8"/>
<line x1="643.49" y1="134.29" x2="647.08" y2="134.29" stroke="rgba(0,0,0,0.33)" stroke-width="0.8"/>
<line x1="643.49" y1="144.68" x2="647.08" y2="144.68" stroke="rgba(0,0,0,0.33)" stroke-width="0.8"/>
<line x1="653.52" y1="134.29" x2="653.52" y2="145.20" stroke="rgba(0,0,0,0.33)" stroke-width="0.8"/>
<line x1="651.72" y1="134.29" x2="655.32" y2="134.29" stroke="rgba(0,0,0,0.33)" stroke-width="0.8"/>
<line x1="651.72" y1="145.20" x2="655.32" y2="145.20" stroke="rgba(0,0,0,0.33)" stroke-width="0.8"/>
<line x1="661.75" y1="136.42" x2="661.75" y2="143.39" stroke="rgba(0,0,0,0.33)" stroke-width="0.8"/>
<line x1="659.96" y1="136.42" x2="663.55" y2="136.42" stroke="rgba(0,0,0,0.33)" stroke-width="0.8"/>
<line x1="659.96" y1="143.39" x2="663.55" y2="143.39" stroke="rgba(0,0,0,0.33)" stroke-width="0.8"/>
<line x1="669.99" y1="137.13" x2="669.99" y2="145.52" stroke="rgba(0,0,0,0.33)" stroke-width="0.8"/>
<line x1="668.19" y1="137.13" x2="671.79" y2="137.13" stroke="rgba(0,0,0,0.33)" stroke-width="0.8"/>
<line x1="668.19" y1="145.52" x2="671.79" y2="145.52" stroke="rgba(0,0,0,0.33)" stroke-width="0.8"/>
<line x1="386.00" y1="9.00" x2="386.00" y2="168.50" stroke="#9a9a9a" stroke-width="0.9"/>
<polygon points="386.00,8.00 384.10,15.00 387.90,15.00" fill="#9a9a9a"/>
<line x1="386.00" y1="168.50" x2="674.00" y2="168.50" stroke="#555" stroke-width="0.8"/>
<line x1="383.50" y1="168.50" x2="386.00" y2="168.50" stroke="#9a9a9a" stroke-width="0.7"/>
<line x1="384.70" y1="152.36" x2="386.00" y2="152.36" stroke="#9a9a9a" stroke-width="0.7"/>
<line x1="383.50" y1="136.22" x2="386.00" y2="136.22" stroke="#9a9a9a" stroke-width="0.7"/>
<line x1="384.70" y1="120.09" x2="386.00" y2="120.09" stroke="#9a9a9a" stroke-width="0.7"/>
<line x1="383.50" y1="103.95" x2="386.00" y2="103.95" stroke="#9a9a9a" stroke-width="0.7"/>
<line x1="384.70" y1="87.81" x2="386.00" y2="87.81" stroke="#9a9a9a" stroke-width="0.7"/>
<line x1="383.50" y1="71.68" x2="386.00" y2="71.68" stroke="#9a9a9a" stroke-width="0.7"/>
<line x1="384.70" y1="55.54" x2="386.00" y2="55.54" stroke="#9a9a9a" stroke-width="0.7"/>
<line x1="383.50" y1="39.40" x2="386.00" y2="39.40" stroke="#9a9a9a" stroke-width="0.7"/>
<line x1="384.70" y1="23.26" x2="386.00" y2="23.26" stroke="#9a9a9a" stroke-width="0.7"/>
<text x="382.40" y="171.18" font-family='"Liberation Sans", sans-serif' font-size="6.5" fill="#444" text-anchor="end" stroke="#444" stroke-width="0.1">0</text>
<text x="382.40" y="138.91" font-family='"Liberation Sans", sans-serif' font-size="6.5" fill="#444" text-anchor="end" stroke="#444" stroke-width="0.1" textLength="7.2" lengthAdjust="spacingAndGlyphs">0.5</text>
<text x="382.40" y="106.63" font-family='"Liberation Sans", sans-serif' font-size="6.5" fill="#444" text-anchor="end" stroke="#444" stroke-width="0.1">1</text>
<text x="382.40" y="74.36" font-family='"Liberation Sans", sans-serif' font-size="6.5" fill="#444" text-anchor="end" stroke="#444" stroke-width="0.1" textLength="7.2" lengthAdjust="spacingAndGlyphs">1.5</text>
<text x="382.40" y="42.08" font-family='"Liberation Sans", sans-serif' font-size="6.5" fill="#444" text-anchor="end" stroke="#444" stroke-width="0.1">2</text>
<line x1="390.00" y1="168.50" x2="390.00" y2="170.00" stroke="#999" stroke-width="0.6"/>
<text x="0" y="1.79" transform="translate(390.20 172.40) rotate(-90)" font-family='"Liberation Sans", sans-serif' font-size="5.6" fill="#444" text-anchor="end" stroke="#444" stroke-width="0.15">23</text>
<line x1="398.24" y1="168.50" x2="398.24" y2="170.00" stroke="#999" stroke-width="0.6"/>
<text x="0" y="1.79" transform="translate(398.44 172.40) rotate(-90)" font-family='"Liberation Sans", sans-serif' font-size="5.6" fill="#444" text-anchor="end" stroke="#444" stroke-width="0.15">6</text>
<line x1="406.47" y1="168.50" x2="406.47" y2="170.00" stroke="#999" stroke-width="0.6"/>
<text x="0" y="1.79" transform="translate(406.67 172.40) rotate(-90)" font-family='"Liberation Sans", sans-serif' font-size="5.6" fill="#444" text-anchor="end" stroke="#444" stroke-width="0.15">13</text>
<line x1="414.70" y1="168.50" x2="414.70" y2="170.00" stroke="#999" stroke-width="0.6"/>
<text x="0" y="1.79" transform="translate(414.90 172.40) rotate(-90)" font-family='"Liberation Sans", sans-serif' font-size="5.6" fill="#444" text-anchor="end" stroke="#444" stroke-width="0.15">27</text>
<line x1="422.94" y1="168.50" x2="422.94" y2="170.00" stroke="#999" stroke-width="0.6"/>
<text x="0" y="1.79" transform="translate(423.14 172.40) rotate(-90)" font-family='"Liberation Sans", sans-serif' font-size="5.6" fill="#444" text-anchor="end" stroke="#444" stroke-width="0.15">16</text>
<line x1="431.18" y1="168.50" x2="431.18" y2="170.00" stroke="#999" stroke-width="0.6"/>
<text x="0" y="1.79" transform="translate(431.38 172.40) rotate(-90)" font-family='"Liberation Sans", sans-serif' font-size="5.6" fill="#444" text-anchor="end" stroke="#444" stroke-width="0.15">12</text>
<line x1="439.41" y1="168.50" x2="439.41" y2="170.00" stroke="#999" stroke-width="0.6"/>
<text x="0" y="1.79" transform="translate(439.61 172.40) rotate(-90)" font-family='"Liberation Sans", sans-serif' font-size="5.6" fill="#444" text-anchor="end" stroke="#444" stroke-width="0.15">26</text>
<line x1="447.64" y1="168.50" x2="447.64" y2="170.00" stroke="#999" stroke-width="0.6"/>
<text x="0" y="1.79" transform="translate(447.84 172.40) rotate(-90)" font-family='"Liberation Sans", sans-serif' font-size="5.6" fill="#444" text-anchor="end" stroke="#444" stroke-width="0.15">14</text>
<line x1="455.88" y1="168.50" x2="455.88" y2="170.00" stroke="#999" stroke-width="0.6"/>
<text x="0" y="1.79" transform="translate(456.08 172.40) rotate(-90)" font-family='"Liberation Sans", sans-serif' font-size="5.6" fill="#444" text-anchor="end" stroke="#444" stroke-width="0.15">21</text>
<line x1="464.12" y1="168.50" x2="464.12" y2="170.00" stroke="#999" stroke-width="0.6"/>
<text x="0" y="1.79" transform="translate(464.31 172.40) rotate(-90)" font-family='"Liberation Sans", sans-serif' font-size="5.6" fill="#444" text-anchor="end" stroke="#444" stroke-width="0.15">19</text>
<line x1="472.35" y1="168.50" x2="472.35" y2="170.00" stroke="#999" stroke-width="0.6"/>
<text x="0" y="1.79" transform="translate(472.55 172.40) rotate(-90)" font-family='"Liberation Sans", sans-serif' font-size="5.6" fill="#444" text-anchor="end" stroke="#444" stroke-width="0.15">17</text>
<line x1="480.58" y1="168.50" x2="480.58" y2="170.00" stroke="#999" stroke-width="0.6"/>
<text x="0" y="1.79" transform="translate(480.78 172.40) rotate(-90)" font-family='"Liberation Sans", sans-serif' font-size="5.6" fill="#444" text-anchor="end" stroke="#444" stroke-width="0.15">32</text>
<line x1="488.82" y1="168.50" x2="488.82" y2="170.00" stroke="#999" stroke-width="0.6"/>
<text x="0" y="1.79" transform="translate(489.02 172.40) rotate(-90)" font-family='"Liberation Sans", sans-serif' font-size="5.6" fill="#444" text-anchor="end" stroke="#444" stroke-width="0.15">28</text>
<line x1="497.06" y1="168.50" x2="497.06" y2="170.00" stroke="#999" stroke-width="0.6"/>
<text x="0" y="1.79" transform="translate(497.25 172.40) rotate(-90)" font-family='"Liberation Sans", sans-serif' font-size="5.6" fill="#444" text-anchor="end" stroke="#444" stroke-width="0.15">2</text>
<line x1="505.29" y1="168.50" x2="505.29" y2="170.00" stroke="#999" stroke-width="0.6"/>
<text x="0" y="1.79" transform="translate(505.49 172.40) rotate(-90)" font-family='"Liberation Sans", sans-serif' font-size="5.6" fill="#444" text-anchor="end" stroke="#444" stroke-width="0.15">22</text>
<line x1="513.52" y1="168.50" x2="513.52" y2="170.00" stroke="#999" stroke-width="0.6"/>
<text x="0" y="1.79" transform="translate(513.73 172.40) rotate(-90)" font-family='"Liberation Sans", sans-serif' font-size="5.6" fill="#444" text-anchor="end" stroke="#444" stroke-width="0.15">7</text>
<line x1="521.76" y1="168.50" x2="521.76" y2="170.00" stroke="#999" stroke-width="0.6"/>
<text x="0" y="1.79" transform="translate(521.96 172.40) rotate(-90)" font-family='"Liberation Sans", sans-serif' font-size="5.6" fill="#444" text-anchor="end" stroke="#444" stroke-width="0.15">18</text>
<line x1="530.00" y1="168.50" x2="530.00" y2="170.00" stroke="#999" stroke-width="0.6"/>
<text x="0" y="1.79" transform="translate(530.20 172.40) rotate(-90)" font-family='"Liberation Sans", sans-serif' font-size="5.6" fill="#444" text-anchor="end" stroke="#444" stroke-width="0.15">3</text>
<line x1="538.23" y1="168.50" x2="538.23" y2="170.00" stroke="#999" stroke-width="0.6"/>
<text x="0" y="1.79" transform="translate(538.43 172.40) rotate(-90)" font-family='"Liberation Sans", sans-serif' font-size="5.6" fill="#444" text-anchor="end" stroke="#444" stroke-width="0.15">29</text>
<line x1="546.46" y1="168.50" x2="546.46" y2="170.00" stroke="#999" stroke-width="0.6"/>
<text x="0" y="1.79" transform="translate(546.66 172.40) rotate(-90)" font-family='"Liberation Sans", sans-serif' font-size="5.6" fill="#444" text-anchor="end" stroke="#444" stroke-width="0.15">11</text>
<line x1="554.70" y1="168.50" x2="554.70" y2="170.00" stroke="#999" stroke-width="0.6"/>
<text x="0" y="1.79" transform="translate(554.90 172.40) rotate(-90)" font-family='"Liberation Sans", sans-serif' font-size="5.6" fill="#444" text-anchor="end" stroke="#444" stroke-width="0.15">1</text>
<line x1="562.93" y1="168.50" x2="562.93" y2="170.00" stroke="#999" stroke-width="0.6"/>
<text x="0" y="1.79" transform="translate(563.13 172.40) rotate(-90)" font-family='"Liberation Sans", sans-serif' font-size="5.6" fill="#444" text-anchor="end" stroke="#444" stroke-width="0.15">10</text>
<line x1="571.17" y1="168.50" x2="571.17" y2="170.00" stroke="#999" stroke-width="0.6"/>
<text x="0" y="1.79" transform="translate(571.37 172.40) rotate(-90)" font-family='"Liberation Sans", sans-serif' font-size="5.6" fill="#444" text-anchor="end" stroke="#444" stroke-width="0.15">34</text>
<line x1="579.40" y1="168.50" x2="579.40" y2="170.00" stroke="#999" stroke-width="0.6"/>
<text x="0" y="1.79" transform="translate(579.61 172.40) rotate(-90)" font-family='"Liberation Sans", sans-serif' font-size="5.6" fill="#444" text-anchor="end" stroke="#444" stroke-width="0.15">9</text>
<line x1="587.64" y1="168.50" x2="587.64" y2="170.00" stroke="#999" stroke-width="0.6"/>
<text x="0" y="1.79" transform="translate(587.84 172.40) rotate(-90)" font-family='"Liberation Sans", sans-serif' font-size="5.6" fill="#444" text-anchor="end" stroke="#444" stroke-width="0.15">33</text>
<line x1="595.88" y1="168.50" x2="595.88" y2="170.00" stroke="#999" stroke-width="0.6"/>
<text x="0" y="1.79" transform="translate(596.08 172.40) rotate(-90)" font-family='"Liberation Sans", sans-serif' font-size="5.6" fill="#444" text-anchor="end" stroke="#444" stroke-width="0.15">30</text>
<line x1="604.11" y1="168.50" x2="604.11" y2="170.00" stroke="#999" stroke-width="0.6"/>
<text x="0" y="1.79" transform="translate(604.31 172.40) rotate(-90)" font-family='"Liberation Sans", sans-serif' font-size="5.6" fill="#444" text-anchor="end" stroke="#444" stroke-width="0.15">31</text>
<line x1="612.35" y1="168.50" x2="612.35" y2="170.00" stroke="#999" stroke-width="0.6"/>
<text x="0" y="1.79" transform="translate(612.55 172.40) rotate(-90)" font-family='"Liberation Sans", sans-serif' font-size="5.6" fill="#444" text-anchor="end" stroke="#444" stroke-width="0.15">4</text>
<line x1="620.58" y1="168.50" x2="620.58" y2="170.00" stroke="#999" stroke-width="0.6"/>
<text x="0" y="1.79" transform="translate(620.78 172.40) rotate(-90)" font-family='"Liberation Sans", sans-serif' font-size="5.6" fill="#444" text-anchor="end" stroke="#444" stroke-width="0.15">8</text>
<line x1="628.82" y1="168.50" x2="628.82" y2="170.00" stroke="#999" stroke-width="0.6"/>
<text x="0" y="1.79" transform="translate(629.02 172.40) rotate(-90)" font-family='"Liberation Sans", sans-serif' font-size="5.6" fill="#444" text-anchor="end" stroke="#444" stroke-width="0.15">35</text>
<line x1="637.05" y1="168.50" x2="637.05" y2="170.00" stroke="#999" stroke-width="0.6"/>
<text x="0" y="1.79" transform="translate(637.25 172.40) rotate(-90)" font-family='"Liberation Sans", sans-serif' font-size="5.6" fill="#444" text-anchor="end" stroke="#444" stroke-width="0.15">20</text>
<line x1="645.28" y1="168.50" x2="645.28" y2="170.00" stroke="#999" stroke-width="0.6"/>
<text x="0" y="1.79" transform="translate(645.49 172.40) rotate(-90)" font-family='"Liberation Sans", sans-serif' font-size="5.6" fill="#444" text-anchor="end" stroke="#444" stroke-width="0.15">24</text>
<line x1="653.52" y1="168.50" x2="653.52" y2="170.00" stroke="#999" stroke-width="0.6"/>
<text x="0" y="1.79" transform="translate(653.72 172.40) rotate(-90)" font-family='"Liberation Sans", sans-serif' font-size="5.6" fill="#444" text-anchor="end" stroke="#444" stroke-width="0.15">25</text>
<line x1="661.75" y1="168.50" x2="661.75" y2="170.00" stroke="#999" stroke-width="0.6"/>
<text x="0" y="1.79" transform="translate(661.96 172.40) rotate(-90)" font-family='"Liberation Sans", sans-serif' font-size="5.6" fill="#444" text-anchor="end" stroke="#444" stroke-width="0.15">5</text>
<line x1="669.99" y1="168.50" x2="669.99" y2="170.00" stroke="#999" stroke-width="0.6"/>
<text x="0" y="1.79" transform="translate(670.19 172.40) rotate(-90)" font-family='"Liberation Sans", sans-serif' font-size="5.6" fill="#444" text-anchor="end" stroke="#444" stroke-width="0.15">15</text>
<text x="529.60" y="184.79" font-family='"Liberation Sans", sans-serif' font-size="5.6" fill="#444" text-anchor="middle" stroke="#444" stroke-width="0.15" textLength="39.4" lengthAdjust="spacingAndGlyphs">Var ID (Primary)</text>
<clipPath id="cjb"><rect x="385.6" y="200" width="288.4" height="176"/></clipPath>
<line x1="385.60" y1="342.90" x2="674.00" y2="342.90" stroke="#e6e6e6" stroke-width="0.8"/>
<line x1="385.60" y1="310.60" x2="674.00" y2="310.60" stroke="#e6e6e6" stroke-width="0.8"/>
<line x1="385.60" y1="278.30" x2="674.00" y2="278.30" stroke="#e6e6e6" stroke-width="0.8"/>
<line x1="385.60" y1="246.00" x2="674.00" y2="246.00" stroke="#e6e6e6" stroke-width="0.8"/>
<g clip-path="url(#cjb)">
<rect x="384.05" y="264.72" width="14.7" height="110.48" fill="#ff0000" stroke="#d07070" stroke-width="1.3"/>
<rect x="401.95" y="265.04" width="14.7" height="110.16" fill="#ff0000" stroke="#d07070" stroke-width="1.3"/>
<rect x="419.85" y="270.40" width="14.7" height="104.80" fill="#ff0000" stroke="#d07070" stroke-width="1.3"/>
<rect x="437.75" y="272.53" width="14.7" height="102.67" fill="#ff0000" stroke="#d07070" stroke-width="1.3"/>
<rect x="455.65" y="276.86" width="14.7" height="98.34" fill="#ff0000" stroke="#d07070" stroke-width="1.3"/>
<rect x="473.55" y="278.41" width="14.7" height="96.79" fill="#ff0000" stroke="#d07070" stroke-width="1.3"/>
<rect x="491.45" y="283.45" width="14.7" height="91.75" fill="#ff0000" stroke="#d07070" stroke-width="1.3"/>
<rect x="509.35" y="293.46" width="14.7" height="81.74" fill="#ff0000" stroke="#d07070" stroke-width="1.3"/>
<rect x="527.25" y="294.63" width="14.7" height="80.57" fill="#ff0000" stroke="#d07070" stroke-width="1.3"/>
<rect x="545.15" y="300.63" width="14.7" height="74.57" fill="#ff0000" stroke="#d07070" stroke-width="1.3"/>
<rect x="563.05" y="300.96" width="14.7" height="74.24" fill="#ff0000" stroke="#d07070" stroke-width="1.3"/>
<rect x="580.95" y="310.84" width="14.7" height="64.36" fill="#ff0000" stroke="#d07070" stroke-width="1.3"/>
<rect x="598.85" y="313.68" width="14.7" height="61.52" fill="#4caf50" stroke="#3d9440" stroke-width="1"/>
<rect x="616.75" y="314.27" width="14.7" height="60.93" fill="#4caf50" stroke="#3d9440" stroke-width="1"/>
<rect x="634.65" y="316.66" width="14.7" height="58.54" fill="#4caf50" stroke="#3d9440" stroke-width="1"/>
<rect x="652.55" y="318.46" width="14.7" height="56.74" fill="#4caf50" stroke="#3d9440" stroke-width="1"/>
<rect x="670.45" y="320.40" width="14.7" height="54.80" fill="#4caf50" stroke="#3d9440" stroke-width="1"/>
<line x1="391.40" y1="248.52" x2="391.40" y2="279.85" stroke="rgba(0,0,0,0.38)" stroke-width="0.9"/>
<line x1="386.90" y1="248.52" x2="395.90" y2="248.52" stroke="rgba(0,0,0,0.38)" stroke-width="0.9"/>
<line x1="386.90" y1="279.85" x2="395.90" y2="279.85" stroke="rgba(0,0,0,0.38)" stroke-width="0.9"/>
<line x1="409.30" y1="242.96" x2="409.30" y2="286.12" stroke="rgba(0,0,0,0.38)" stroke-width="0.9"/>
<line x1="404.80" y1="242.96" x2="413.80" y2="242.96" stroke="rgba(0,0,0,0.38)" stroke-width="0.9"/>
<line x1="404.80" y1="286.12" x2="413.80" y2="286.12" stroke="rgba(0,0,0,0.38)" stroke-width="0.9"/>
<line x1="427.20" y1="253.30" x2="427.20" y2="286.12" stroke="rgba(0,0,0,0.38)" stroke-width="0.9"/>
<line x1="422.70" y1="253.30" x2="431.70" y2="253.30" stroke="rgba(0,0,0,0.38)" stroke-width="0.9"/>
<line x1="422.70" y1="286.12" x2="431.70" y2="286.12" stroke="rgba(0,0,0,0.38)" stroke-width="0.9"/>
<line x1="445.10" y1="250.91" x2="445.10" y2="291.67" stroke="rgba(0,0,0,0.38)" stroke-width="0.9"/>
<line x1="440.60" y1="250.91" x2="449.60" y2="250.91" stroke="rgba(0,0,0,0.38)" stroke-width="0.9"/>
<line x1="440.60" y1="291.67" x2="449.60" y2="291.67" stroke="rgba(0,0,0,0.38)" stroke-width="0.9"/>
<line x1="463.00" y1="254.53" x2="463.00" y2="296.00" stroke="rgba(0,0,0,0.38)" stroke-width="0.9"/>
<line x1="458.50" y1="254.53" x2="467.50" y2="254.53" stroke="rgba(0,0,0,0.38)" stroke-width="0.9"/>
<line x1="458.50" y1="296.00" x2="467.50" y2="296.00" stroke="rgba(0,0,0,0.38)" stroke-width="0.9"/>
<line x1="480.90" y1="242.83" x2="480.90" y2="312.34" stroke="rgba(0,0,0,0.38)" stroke-width="0.9"/>
<line x1="476.40" y1="242.83" x2="485.40" y2="242.83" stroke="rgba(0,0,0,0.38)" stroke-width="0.9"/>
<line x1="476.40" y1="312.34" x2="485.40" y2="312.34" stroke="rgba(0,0,0,0.38)" stroke-width="0.9"/>
<line x1="498.80" y1="272.29" x2="498.80" y2="293.55" stroke="rgba(0,0,0,0.38)" stroke-width="0.9"/>
<line x1="494.30" y1="272.29" x2="503.30" y2="272.29" stroke="rgba(0,0,0,0.38)" stroke-width="0.9"/>
<line x1="494.30" y1="293.55" x2="503.30" y2="293.55" stroke="rgba(0,0,0,0.38)" stroke-width="0.9"/>
<line x1="516.70" y1="275.01" x2="516.70" y2="309.18" stroke="rgba(0,0,0,0.38)" stroke-width="0.9"/>
<line x1="512.20" y1="275.01" x2="521.20" y2="275.01" stroke="rgba(0,0,0,0.38)" stroke-width="0.9"/>
<line x1="512.20" y1="309.18" x2="521.20" y2="309.18" stroke="rgba(0,0,0,0.38)" stroke-width="0.9"/>
<line x1="534.60" y1="282.76" x2="534.60" y2="304.46" stroke="rgba(0,0,0,0.38)" stroke-width="0.9"/>
<line x1="530.10" y1="282.76" x2="539.10" y2="282.76" stroke="rgba(0,0,0,0.38)" stroke-width="0.9"/>
<line x1="530.10" y1="304.46" x2="539.10" y2="304.46" stroke="rgba(0,0,0,0.38)" stroke-width="0.9"/>
<line x1="552.50" y1="289.35" x2="552.50" y2="309.95" stroke="rgba(0,0,0,0.38)" stroke-width="0.9"/>
<line x1="548.00" y1="289.35" x2="557.00" y2="289.35" stroke="rgba(0,0,0,0.38)" stroke-width="0.9"/>
<line x1="548.00" y1="309.95" x2="557.00" y2="309.95" stroke="rgba(0,0,0,0.38)" stroke-width="0.9"/>
<line x1="570.40" y1="278.56" x2="570.40" y2="321.58" stroke="rgba(0,0,0,0.38)" stroke-width="0.9"/>
<line x1="565.90" y1="278.56" x2="574.90" y2="278.56" stroke="rgba(0,0,0,0.38)" stroke-width="0.9"/>
<line x1="565.90" y1="321.58" x2="574.90" y2="321.58" stroke="rgba(0,0,0,0.38)" stroke-width="0.9"/>
<line x1="588.30" y1="302.01" x2="588.30" y2="317.45" stroke="rgba(0,0,0,0.38)" stroke-width="0.9"/>
<line x1="583.80" y1="302.01" x2="592.80" y2="302.01" stroke="rgba(0,0,0,0.38)" stroke-width="0.9"/>
<line x1="583.80" y1="317.45" x2="592.80" y2="317.45" stroke="rgba(0,0,0,0.38)" stroke-width="0.9"/>
<line x1="606.20" y1="306.01" x2="606.20" y2="320.23" stroke="rgba(0,0,0,0.38)" stroke-width="0.9"/>
<line x1="601.70" y1="306.01" x2="610.70" y2="306.01" stroke="rgba(0,0,0,0.38)" stroke-width="0.9"/>
<line x1="601.70" y1="320.23" x2="610.70" y2="320.23" stroke="rgba(0,0,0,0.38)" stroke-width="0.9"/>
<line x1="624.10" y1="293.16" x2="624.10" y2="332.95" stroke="rgba(0,0,0,0.38)" stroke-width="0.9"/>
<line x1="619.60" y1="293.16" x2="628.60" y2="293.16" stroke="rgba(0,0,0,0.38)" stroke-width="0.9"/>
<line x1="619.60" y1="332.95" x2="628.60" y2="332.95" stroke="rgba(0,0,0,0.38)" stroke-width="0.9"/>
<line x1="642.00" y1="308.08" x2="642.00" y2="324.17" stroke="rgba(0,0,0,0.38)" stroke-width="0.9"/>
<line x1="637.50" y1="308.08" x2="646.50" y2="308.08" stroke="rgba(0,0,0,0.38)" stroke-width="0.9"/>
<line x1="637.50" y1="324.17" x2="646.50" y2="324.17" stroke="rgba(0,0,0,0.38)" stroke-width="0.9"/>
<line x1="659.90" y1="305.04" x2="659.90" y2="330.17" stroke="rgba(0,0,0,0.38)" stroke-width="0.9"/>
<line x1="655.40" y1="305.04" x2="664.40" y2="305.04" stroke="rgba(0,0,0,0.38)" stroke-width="0.9"/>
<line x1="655.40" y1="330.17" x2="664.40" y2="330.17" stroke="rgba(0,0,0,0.38)" stroke-width="0.9"/>
<line x1="677.80" y1="313.18" x2="677.80" y2="326.17" stroke="rgba(0,0,0,0.38)" stroke-width="0.9"/>
<line x1="673.30" y1="313.18" x2="682.30" y2="313.18" stroke="rgba(0,0,0,0.38)" stroke-width="0.9"/>
<line x1="673.30" y1="326.17" x2="682.30" y2="326.17" stroke="rgba(0,0,0,0.38)" stroke-width="0.9"/>
</g>
<line x1="385.60" y1="215.00" x2="385.60" y2="375.20" stroke="#9a9a9a" stroke-width="0.9"/>
<polygon points="385.60,214.00 383.70,221.00 387.50,221.00" fill="#9a9a9a"/>
<line x1="385.60" y1="375.20" x2="674.00" y2="375.20" stroke="#555" stroke-width="0.8"/>
<line x1="383.10" y1="375.20" x2="385.60" y2="375.20" stroke="#9a9a9a" stroke-width="0.7"/>
<line x1="384.30" y1="359.05" x2="385.60" y2="359.05" stroke="#9a9a9a" stroke-width="0.7"/>
<line x1="383.10" y1="342.90" x2="385.60" y2="342.90" stroke="#9a9a9a" stroke-width="0.7"/>
<line x1="384.30" y1="326.75" x2="385.60" y2="326.75" stroke="#9a9a9a" stroke-width="0.7"/>
<line x1="383.10" y1="310.60" x2="385.60" y2="310.60" stroke="#9a9a9a" stroke-width="0.7"/>
<line x1="384.30" y1="294.45" x2="385.60" y2="294.45" stroke="#9a9a9a" stroke-width="0.7"/>
<line x1="383.10" y1="278.30" x2="385.60" y2="278.30" stroke="#9a9a9a" stroke-width="0.7"/>
<line x1="384.30" y1="262.15" x2="385.60" y2="262.15" stroke="#9a9a9a" stroke-width="0.7"/>
<line x1="383.10" y1="246.00" x2="385.60" y2="246.00" stroke="#9a9a9a" stroke-width="0.7"/>
<line x1="384.30" y1="229.85" x2="385.60" y2="229.85" stroke="#9a9a9a" stroke-width="0.7"/>
<text x="382.00" y="377.88" font-family='"Liberation Sans", sans-serif' font-size="6.5" fill="#444" text-anchor="end" stroke="#444" stroke-width="0.1">0</text>
<text x="382.00" y="345.58" font-family='"Liberation Sans", sans-serif' font-size="6.5" fill="#444" text-anchor="end" stroke="#444" stroke-width="0.1" textLength="7.4" lengthAdjust="spacingAndGlyphs">0.5</text>
<text x="382.00" y="313.28" font-family='"Liberation Sans", sans-serif' font-size="6.5" fill="#444" text-anchor="end" stroke="#444" stroke-width="0.1">1</text>
<text x="382.00" y="280.98" font-family='"Liberation Sans", sans-serif' font-size="6.5" fill="#444" text-anchor="end" stroke="#444" stroke-width="0.1" textLength="7.4" lengthAdjust="spacingAndGlyphs">1.5</text>
<text x="382.00" y="248.68" font-family='"Liberation Sans", sans-serif' font-size="6.5" fill="#444" text-anchor="end" stroke="#444" stroke-width="0.1">2</text>
<line x1="391.40" y1="375.20" x2="391.40" y2="376.70" stroke="#999" stroke-width="0.6"/>
<text x="0" y="1.79" transform="translate(391.60 378.40) rotate(-90)" font-family='"Liberation Sans", sans-serif' font-size="5.6" fill="#444" text-anchor="end" stroke="#444" stroke-width="0.15">23</text>
<line x1="409.30" y1="375.20" x2="409.30" y2="376.70" stroke="#999" stroke-width="0.6"/>
<text x="0" y="1.79" transform="translate(409.50 378.40) rotate(-90)" font-family='"Liberation Sans", sans-serif' font-size="5.6" fill="#444" text-anchor="end" stroke="#444" stroke-width="0.15">6</text>
<line x1="427.20" y1="375.20" x2="427.20" y2="376.70" stroke="#999" stroke-width="0.6"/>
<text x="0" y="1.79" transform="translate(427.40 378.40) rotate(-90)" font-family='"Liberation Sans", sans-serif' font-size="5.6" fill="#444" text-anchor="end" stroke="#444" stroke-width="0.15">13</text>
<line x1="445.10" y1="375.20" x2="445.10" y2="376.70" stroke="#999" stroke-width="0.6"/>
<text x="0" y="1.79" transform="translate(445.30 378.40) rotate(-90)" font-family='"Liberation Sans", sans-serif' font-size="5.6" fill="#444" text-anchor="end" stroke="#444" stroke-width="0.15">27</text>
<line x1="463.00" y1="375.20" x2="463.00" y2="376.70" stroke="#999" stroke-width="0.6"/>
<text x="0" y="1.79" transform="translate(463.20 378.40) rotate(-90)" font-family='"Liberation Sans", sans-serif' font-size="5.6" fill="#444" text-anchor="end" stroke="#444" stroke-width="0.15">16</text>
<line x1="480.90" y1="375.20" x2="480.90" y2="376.70" stroke="#999" stroke-width="0.6"/>
<text x="0" y="1.79" transform="translate(481.10 378.40) rotate(-90)" font-family='"Liberation Sans", sans-serif' font-size="5.6" fill="#444" text-anchor="end" stroke="#444" stroke-width="0.15">12</text>
<line x1="498.80" y1="375.20" x2="498.80" y2="376.70" stroke="#999" stroke-width="0.6"/>
<text x="0" y="1.79" transform="translate(499.00 378.40) rotate(-90)" font-family='"Liberation Sans", sans-serif' font-size="5.6" fill="#444" text-anchor="end" stroke="#444" stroke-width="0.15">26</text>
<line x1="516.70" y1="375.20" x2="516.70" y2="376.70" stroke="#999" stroke-width="0.6"/>
<text x="0" y="1.79" transform="translate(516.90 378.40) rotate(-90)" font-family='"Liberation Sans", sans-serif' font-size="5.6" fill="#444" text-anchor="end" stroke="#444" stroke-width="0.15">14</text>
<line x1="534.60" y1="375.20" x2="534.60" y2="376.70" stroke="#999" stroke-width="0.6"/>
<text x="0" y="1.79" transform="translate(534.80 378.40) rotate(-90)" font-family='"Liberation Sans", sans-serif' font-size="5.6" fill="#444" text-anchor="end" stroke="#444" stroke-width="0.15">21</text>
<line x1="552.50" y1="375.20" x2="552.50" y2="376.70" stroke="#999" stroke-width="0.6"/>
<text x="0" y="1.79" transform="translate(552.70 378.40) rotate(-90)" font-family='"Liberation Sans", sans-serif' font-size="5.6" fill="#444" text-anchor="end" stroke="#444" stroke-width="0.15">19</text>
<line x1="570.40" y1="375.20" x2="570.40" y2="376.70" stroke="#999" stroke-width="0.6"/>
<text x="0" y="1.79" transform="translate(570.60 378.40) rotate(-90)" font-family='"Liberation Sans", sans-serif' font-size="5.6" fill="#444" text-anchor="end" stroke="#444" stroke-width="0.15">17</text>
<line x1="588.30" y1="375.20" x2="588.30" y2="376.70" stroke="#999" stroke-width="0.6"/>
<text x="0" y="1.79" transform="translate(588.50 378.40) rotate(-90)" font-family='"Liberation Sans", sans-serif' font-size="5.6" fill="#444" text-anchor="end" stroke="#444" stroke-width="0.15">32</text>
<line x1="606.20" y1="375.20" x2="606.20" y2="376.70" stroke="#999" stroke-width="0.6"/>
<text x="0" y="1.79" transform="translate(606.40 378.40) rotate(-90)" font-family='"Liberation Sans", sans-serif' font-size="5.6" fill="#444" text-anchor="end" stroke="#444" stroke-width="0.15">28</text>
<line x1="624.10" y1="375.20" x2="624.10" y2="376.70" stroke="#999" stroke-width="0.6"/>
<text x="0" y="1.79" transform="translate(624.30 378.40) rotate(-90)" font-family='"Liberation Sans", sans-serif' font-size="5.6" fill="#444" text-anchor="end" stroke="#444" stroke-width="0.15">2</text>
<line x1="642.00" y1="375.20" x2="642.00" y2="376.70" stroke="#999" stroke-width="0.6"/>
<text x="0" y="1.79" transform="translate(642.20 378.40) rotate(-90)" font-family='"Liberation Sans", sans-serif' font-size="5.6" fill="#444" text-anchor="end" stroke="#444" stroke-width="0.15">22</text>
<line x1="659.90" y1="375.20" x2="659.90" y2="376.70" stroke="#999" stroke-width="0.6"/>
<text x="0" y="1.79" transform="translate(660.10 378.40) rotate(-90)" font-family='"Liberation Sans", sans-serif' font-size="5.6" fill="#444" text-anchor="end" stroke="#444" stroke-width="0.15">7</text>
<text x="529.80" y="391.19" font-family='"Liberation Sans", sans-serif' font-size="5.6" fill="#444" text-anchor="middle" stroke="#444" stroke-width="0.15" textLength="38.9" lengthAdjust="spacingAndGlyphs">Var ID (Primary)</text>
<line x1="126.40" y1="420.30" x2="126.40" y2="581.60" stroke="#e8e8e8" stroke-width="0.8"/>
<line x1="164.80" y1="420.30" x2="164.80" y2="581.60" stroke="#e8e8e8" stroke-width="0.8"/>
<line x1="203.20" y1="420.30" x2="203.20" y2="581.60" stroke="#e8e8e8" stroke-width="0.8"/>
<line x1="241.60" y1="420.30" x2="241.60" y2="581.60" stroke="#e8e8e8" stroke-width="0.8"/>
<line x1="280.00" y1="420.30" x2="280.00" y2="581.60" stroke="#e8e8e8" stroke-width="0.8"/>
<line x1="49.40" y1="446.90" x2="318.20" y2="446.90" stroke="#e8e8e8" stroke-width="0.8"/>
<line x1="49.40" y1="473.85" x2="318.20" y2="473.85" stroke="#e8e8e8" stroke-width="0.8"/>
<line x1="49.40" y1="527.75" x2="318.20" y2="527.75" stroke="#e8e8e8" stroke-width="0.8"/>
<line x1="49.40" y1="554.70" x2="318.20" y2="554.70" stroke="#e8e8e8" stroke-width="0.8"/>
<line x1="88.00" y1="420.30" x2="88.00" y2="581.60" stroke="#cfcfcf" stroke-width="1.8"/>
<line x1="49.40" y1="500.80" x2="318.20" y2="500.80" stroke="#cfcfcf" stroke-width="1.5"/>
<line x1="49.40" y1="421.80" x2="49.40" y2="581.60" stroke="#9a9a9a" stroke-width="0.9"/>
<line x1="49.40" y1="581.60" x2="316.20" y2="581.60" stroke="#9a9a9a" stroke-width="0.9"/>
<polygon points="49.40,420.80 47.50,427.80 51.30,427.80" fill="#9a9a9a"/>
<polygon points="318.20,581.60 311.20,579.70 311.20,583.50" fill="#9a9a9a"/>
<line x1="48.10" y1="568.17" x2="49.40" y2="568.17" stroke="#9a9a9a" stroke-width="0.7"/>
<line x1="47.00" y1="554.70" x2="49.40" y2="554.70" stroke="#9a9a9a" stroke-width="0.7"/>
<line x1="48.10" y1="541.23" x2="49.40" y2="541.23" stroke="#9a9a9a" stroke-width="0.7"/>
<line x1="47.00" y1="527.75" x2="49.40" y2="527.75" stroke="#9a9a9a" stroke-width="0.7"/>
<line x1="48.10" y1="514.27" x2="49.40" y2="514.27" stroke="#9a9a9a" stroke-width="0.7"/>
<line x1="47.00" y1="500.80" x2="49.40" y2="500.80" stroke="#9a9a9a" stroke-width="0.7"/>
<line x1="48.10" y1="487.32" x2="49.40" y2="487.32" stroke="#9a9a9a" stroke-width="0.7"/>
<line x1="47.00" y1="473.85" x2="49.40" y2="473.85" stroke="#9a9a9a" stroke-width="0.7"/>
<line x1="48.10" y1="460.38" x2="49.40" y2="460.38" stroke="#9a9a9a" stroke-width="0.7"/>
<line x1="47.00" y1="446.90" x2="49.40" y2="446.90" stroke="#9a9a9a" stroke-width="0.7"/>
<line x1="48.10" y1="433.43" x2="49.40" y2="433.43" stroke="#9a9a9a" stroke-width="0.7"/>
<line x1="49.60" y1="581.60" x2="49.60" y2="584.00" stroke="#9a9a9a" stroke-width="0.7"/>
<line x1="68.80" y1="581.60" x2="68.80" y2="582.90" stroke="#9a9a9a" stroke-width="0.7"/>
<line x1="88.00" y1="581.60" x2="88.00" y2="584.00" stroke="#9a9a9a" stroke-width="0.7"/>
<line x1="107.20" y1="581.60" x2="107.20" y2="582.90" stroke="#9a9a9a" stroke-width="0.7"/>
<line x1="126.40" y1="581.60" x2="126.40" y2="584.00" stroke="#9a9a9a" stroke-width="0.7"/>
<line x1="145.60" y1="581.60" x2="145.60" y2="582.90" stroke="#9a9a9a" stroke-width="0.7"/>
<line x1="164.80" y1="581.60" x2="164.80" y2="584.00" stroke="#9a9a9a" stroke-width="0.7"/>
<line x1="184.00" y1="581.60" x2="184.00" y2="582.90" stroke="#9a9a9a" stroke-width="0.7"/>
<line x1="203.20" y1="581.60" x2="203.20" y2="584.00" stroke="#9a9a9a" stroke-width="0.7"/>
<line x1="222.40" y1="581.60" x2="222.40" y2="582.90" stroke="#9a9a9a" stroke-width="0.7"/>
<line x1="241.60" y1="581.60" x2="241.60" y2="584.00" stroke="#9a9a9a" stroke-width="0.7"/>
<line x1="260.80" y1="581.60" x2="260.80" y2="582.90" stroke="#9a9a9a" stroke-width="0.7"/>
<line x1="280.00" y1="581.60" x2="280.00" y2="584.00" stroke="#9a9a9a" stroke-width="0.7"/>
<line x1="299.20" y1="581.60" x2="299.20" y2="582.90" stroke="#9a9a9a" stroke-width="0.7"/>
<text x="46.00" y="449.06" font-family='"Liberation Serif", serif' font-size="5.8" fill="#333" text-anchor="end" stroke="#333" stroke-width="0.15">1</text>
<text x="46.00" y="476.01" font-family='"Liberation Serif", serif' font-size="5.8" fill="#333" text-anchor="end" stroke="#333" stroke-width="0.15">0.5</text>
<text x="46.00" y="502.96" font-family='"Liberation Serif", serif' font-size="5.8" fill="#333" text-anchor="end" stroke="#333" stroke-width="0.15">0</text>
<text x="46.00" y="529.91" font-family='"Liberation Serif", serif' font-size="5.8" fill="#333" text-anchor="end" stroke="#333" stroke-width="0.15">-0.5</text>
<text x="46.00" y="556.86" font-family='"Liberation Serif", serif' font-size="5.8" fill="#333" text-anchor="end" stroke="#333" stroke-width="0.15">-1</text>
<text x="46.00" y="583.81" font-family='"Liberation Serif", serif' font-size="5.8" fill="#333" text-anchor="end" stroke="#333" stroke-width="0.15">-1.5</text>
<text x="49.30" y="591.26" font-family='"Liberation Serif", serif' font-size="5.8" fill="#333" text-anchor="middle" stroke="#333" stroke-width="0.15">-0.2</text>
<text x="87.70" y="591.26" font-family='"Liberation Serif", serif' font-size="5.8" fill="#333" text-anchor="middle" stroke="#333" stroke-width="0.15">0</text>
<text x="126.10" y="591.26" font-family='"Liberation Serif", serif' font-size="5.8" fill="#333" text-anchor="middle" stroke="#333" stroke-width="0.15">0.2</text>
<text x="164.50" y="591.26" font-family='"Liberation Serif", serif' font-size="5.8" fill="#333" text-anchor="middle" stroke="#333" stroke-width="0.15">0.4</text>
<text x="202.90" y="591.26" font-family='"Liberation Serif", serif' font-size="5.8" fill="#333" text-anchor="middle" stroke="#333" stroke-width="0.15">0.6</text>
<text x="241.30" y="591.26" font-family='"Liberation Serif", serif' font-size="5.8" fill="#333" text-anchor="middle" stroke="#333" stroke-width="0.15">0.8</text>
<text x="279.70" y="591.26" font-family='"Liberation Serif", serif' font-size="5.8" fill="#333" text-anchor="middle" stroke="#333" stroke-width="0.15">1</text>
<text x="179.70" y="598.24" font-family='"Liberation Serif", serif' font-size="7.0" fill="#222" text-anchor="middle" stroke="#222" stroke-width="0.15" textLength="85.5" lengthAdjust="spacingAndGlyphs">200 permutations 2 components</text>
<rect x="85.20" y="493.60" width="5.6" height="5.6" fill="#3f51b5" stroke="#2c3a8a" stroke-width="0.5"/>
<rect x="85.20" y="497.00" width="5.6" height="5.6" fill="#3f51b5" stroke="#2c3a8a" stroke-width="0.5"/>
<rect x="85.20" y="500.50" width="5.6" height="5.6" fill="#3f51b5" stroke="#2c3a8a" stroke-width="0.5"/>
<rect x="85.20" y="504.30" width="5.6" height="5.6" fill="#3f51b5" stroke="#2c3a8a" stroke-width="0.5"/>
<rect x="85.20" y="509.00" width="5.6" height="5.6" fill="#3f51b5" stroke="#2c3a8a" stroke-width="0.5"/>
<rect x="85.20" y="512.90" width="5.6" height="5.6" fill="#3f51b5" stroke="#2c3a8a" stroke-width="0.5"/>
<rect x="85.20" y="517.90" width="5.6" height="5.6" fill="#3f51b5" stroke="#2c3a8a" stroke-width="0.5"/>
<rect x="85.20" y="520.80" width="5.6" height="5.6" fill="#3f51b5" stroke="#2c3a8a" stroke-width="0.5"/>
<rect x="85.20" y="524.30" width="5.6" height="5.6" fill="#3f51b5" stroke="#2c3a8a" stroke-width="0.5"/>
<rect x="85.20" y="528.70" width="5.6" height="5.6" fill="#3f51b5" stroke="#2c3a8a" stroke-width="0.5"/>
<rect x="85.20" y="532.90" width="5.6" height="5.6" fill="#3f51b5" stroke="#2c3a8a" stroke-width="0.5"/>
<rect x="85.20" y="536.40" width="5.6" height="5.6" fill="#3f51b5" stroke="#2c3a8a" stroke-width="0.5"/>
<rect x="85.20" y="540.00" width="5.6" height="5.6" fill="#3f51b5" stroke="#2c3a8a" stroke-width="0.5"/>
<rect x="85.20" y="542.50" width="5.6" height="5.6" fill="#3f51b5" stroke="#2c3a8a" stroke-width="0.5"/>
<rect x="85.20" y="546.20" width="5.6" height="5.6" fill="#3f51b5" stroke="#2c3a8a" stroke-width="0.5"/>
<rect x="85.20" y="550.00" width="5.6" height="5.6" fill="#3f51b5" stroke="#2c3a8a" stroke-width="0.5"/>
<rect x="85.20" y="553.50" width="5.6" height="5.6" fill="#3f51b5" stroke="#2c3a8a" stroke-width="0.5"/>
<rect x="85.20" y="557.40" width="5.6" height="5.6" fill="#3f51b5" stroke="#2c3a8a" stroke-width="0.5"/>
<rect x="85.20" y="558.80" width="5.6" height="5.6" fill="#3f51b5" stroke="#2c3a8a" stroke-width="0.5"/>
<rect x="181.10" y="495.00" width="5.6" height="5.6" fill="#3f51b5" stroke="#2c3a8a" stroke-width="0.5"/>
<rect x="181.10" y="500.10" width="5.6" height="5.6" fill="#3f51b5" stroke="#2c3a8a" stroke-width="0.5"/>
<rect x="181.10" y="503.30" width="5.6" height="5.6" fill="#3f51b5" stroke="#2c3a8a" stroke-width="0.5"/>
<rect x="181.10" y="506.40" width="5.6" height="5.6" fill="#3f51b5" stroke="#2c3a8a" stroke-width="0.5"/>
<rect x="181.10" y="512.80" width="5.6" height="5.6" fill="#3f51b5" stroke="#2c3a8a" stroke-width="0.5"/>
<rect x="181.10" y="515.20" width="5.6" height="5.6" fill="#3f51b5" stroke="#2c3a8a" stroke-width="0.5"/>
<rect x="181.10" y="520.70" width="5.6" height="5.6" fill="#3f51b5" stroke="#2c3a8a" stroke-width="0.5"/>
<rect x="181.10" y="522.30" width="5.6" height="5.6" fill="#3f51b5" stroke="#2c3a8a" stroke-width="0.5"/>
<rect x="181.10" y="444.20" width="5.6" height="5.6" fill="#3f51b5" stroke="#2c3a8a" stroke-width="0.5"/>
<rect x="277.20" y="444.10" width="5.6" height="5.6" fill="#3f51b5" stroke="#2c3a8a" stroke-width="0.5"/>
<circle cx="88.00" cy="490.40" r="3.1" fill="#4fae4f" stroke="#3a8a3a" stroke-width="0.6"/>
<circle cx="88.00" cy="487.50" r="3.1" fill="#4fae4f" stroke="#3a8a3a" stroke-width="0.6"/>
<circle cx="88.00" cy="484.30" r="3.1" fill="#4fae4f" stroke="#3a8a3a" stroke-width="0.6"/>
<circle cx="88.00" cy="480.70" r="3.1" fill="#4fae4f" stroke="#3a8a3a" stroke-width="0.6"/>
<circle cx="88.00" cy="476.80" r="3.1" fill="#4fae4f" stroke="#3a8a3a" stroke-width="0.6"/>
<circle cx="88.00" cy="473.40" r="3.1" fill="#4fae4f" stroke="#3a8a3a" stroke-width="0.6"/>
<circle cx="88.00" cy="470.30" r="3.1" fill="#4fae4f" stroke="#3a8a3a" stroke-width="0.6"/>
<circle cx="183.90" cy="484.20" r="3.1" fill="#4fae4f" stroke="#3a8a3a" stroke-width="0.6"/>
<circle cx="183.90" cy="480.20" r="3.1" fill="#4fae4f" stroke="#3a8a3a" stroke-width="0.6"/>
<circle cx="183.90" cy="475.60" r="3.1" fill="#4fae4f" stroke="#3a8a3a" stroke-width="0.6"/>
<circle cx="183.90" cy="470.80" r="3.1" fill="#4fae4f" stroke="#3a8a3a" stroke-width="0.6"/>
<circle cx="183.90" cy="466.00" r="3.1" fill="#4fae4f" stroke="#3a8a3a" stroke-width="0.6"/>
<circle cx="183.90" cy="462.50" r="3.1" fill="#4fae4f" stroke="#3a8a3a" stroke-width="0.6"/>
<circle cx="183.90" cy="459.60" r="3.1" fill="#4fae4f" stroke="#3a8a3a" stroke-width="0.6"/>
<line x1="91.0" y1="490.6" x2="279.0" y2="447.2" stroke="#222" stroke-width="1.1" stroke-dasharray="3,1.6"/>
<line x1="91.0" y1="534.4" x2="279.0" y2="447.6" stroke="#222" stroke-width="1.1" stroke-dasharray="3,1.6"/>
<circle cx="327.40" cy="421.10" r="3.3" fill="#4fae4f" stroke="#3a8a3a" stroke-width="0.5"/>
<rect x="324.40" y="427.60" width="5.70" height="5.80" fill="#3f51b5"/>
<polygon points="523.30,524.40 532.24,530.90 528.83,541.40 517.77,541.40 514.36,530.90" fill="none" stroke="#c9c9c9" stroke-width="0.6"/>
<polygon points="523.30,515.00 541.18,527.99 534.35,549.01 512.25,549.01 505.42,527.99" fill="none" stroke="#c9c9c9" stroke-width="0.6"/>
<polygon points="523.30,505.60 550.12,525.09 539.88,556.61 506.72,556.61 496.48,525.09" fill="none" stroke="#c9c9c9" stroke-width="0.6"/>
<polygon points="523.30,496.20 559.06,522.18 545.40,564.22 501.20,564.22 487.54,522.18" fill="none" stroke="#c9c9c9" stroke-width="0.6"/>
<polygon points="523.30,486.80 568.00,519.28 550.93,571.82 495.67,571.82 478.60,519.28" fill="none" stroke="#c9c9c9" stroke-width="0.6"/>
<polygon points="523.30,477.40 576.94,516.37 556.45,579.43 490.15,579.43 469.66,516.37" fill="none" stroke="#c9c9c9" stroke-width="0.6"/>
<polygon points="523.30,468.00 585.88,513.47 561.98,587.03 484.62,587.03 460.72,513.47" fill="none" stroke="#c9c9c9" stroke-width="0.6"/>
<polygon points="523.30,458.60 594.82,510.56 567.50,594.64 479.10,594.64 451.78,510.56" fill="none" stroke="#c9c9c9" stroke-width="0.6"/>
<polygon points="523.30,449.20 603.76,507.66 573.03,602.24 473.57,602.24 442.84,507.66" fill="none" stroke="#c9c9c9" stroke-width="0.6"/>
<polygon points="523.30,439.80 612.70,504.75 578.55,609.85 468.05,609.85 433.90,504.75" fill="none" stroke="#c9c9c9" stroke-width="0.6"/>
<polygon points="523.30,430.40 621.64,501.85 584.08,617.45 462.52,617.45 424.96,501.85" fill="none" stroke="#c9c9c9" stroke-width="0.6"/>
<line x1="523.30" y1="533.80" x2="621.64" y2="501.85" stroke="#555" stroke-width="0.8"/>
<line x1="523.30" y1="533.80" x2="584.08" y2="617.45" stroke="#555" stroke-width="0.8"/>
<line x1="523.30" y1="533.80" x2="462.52" y2="617.45" stroke="#555" stroke-width="0.8"/>
<line x1="523.30" y1="533.80" x2="424.96" y2="501.85" stroke="#555" stroke-width="0.8"/>
<line x1="523.30" y1="533.80" x2="523.30" y2="430.40" stroke="#8a8a8a" stroke-width="1.4"/>
<line x1="521.50" y1="533.80" x2="523.30" y2="533.80" stroke="#8a8a8a" stroke-width="0.6"/>
<text x="521.60" y="535.89" font-family='"Liberation Serif", serif' font-size="5.9" fill="#444" text-anchor="end">6.8</text>
<line x1="521.50" y1="524.40" x2="523.30" y2="524.40" stroke="#8a8a8a" stroke-width="0.6"/>
<text x="521.60" y="526.49" font-family='"Liberation Serif", serif' font-size="5.9" fill="#444" text-anchor="end">7.0</text>
<line x1="521.50" y1="515.00" x2="523.30" y2="515.00" stroke="#8a8a8a" stroke-width="0.6"/>
<text x="521.60" y="517.09" font-family='"Liberation Serif", serif' font-size="5.9" fill="#444" text-anchor="end">7.2</text>
<line x1="521.50" y1="505.60" x2="523.30" y2="505.60" stroke="#8a8a8a" stroke-width="0.6"/>
<text x="521.60" y="507.69" font-family='"Liberation Serif", serif' font-size="5.9" fill="#444" text-anchor="end">7.4</text>
<line x1="521.50" y1="496.20" x2="523.30" y2="496.20" stroke="#8a8a8a" stroke-width="0.6"/>
<text x="521.60" y="498.29" font-family='"Liberation Serif", serif' font-size="5.9" fill="#444" text-anchor="end">7.6</text>
<line x1="521.50" y1="486.80" x2="523.30" y2="486.80" stroke="#8a8a8a" stroke-width="0.6"/>
<text x="521.60" y="488.89" font-family='"Liberation Serif", serif' font-size="5.9" fill="#444" text-anchor="end">7.8</text>
<line x1="521.50" y1="477.40" x2="523.30" y2="477.40" stroke="#8a8a8a" stroke-width="0.6"/>
<text x="521.60" y="479.49" font-family='"Liberation Serif", serif' font-size="5.9" fill="#444" text-anchor="end">8.0</text>
<line x1="521.50" y1="468.00" x2="523.30" y2="468.00" stroke="#8a8a8a" stroke-width="0.6"/>
<text x="521.60" y="470.09" font-family='"Liberation Serif", serif' font-size="5.9" fill="#444" text-anchor="end">8.2</text>
<line x1="521.50" y1="458.60" x2="523.30" y2="458.60" stroke="#8a8a8a" stroke-width="0.6"/>
<text x="521.60" y="460.69" font-family='"Liberation Serif", serif' font-size="5.9" fill="#444" text-anchor="end">8.4</text>
<line x1="521.50" y1="449.20" x2="523.30" y2="449.20" stroke="#8a8a8a" stroke-width="0.6"/>
<text x="521.60" y="451.29" font-family='"Liberation Serif", serif' font-size="5.9" fill="#444" text-anchor="end">8.6</text>
<line x1="521.50" y1="439.80" x2="523.30" y2="439.80" stroke="#8a8a8a" stroke-width="0.6"/>
<text x="521.60" y="441.89" font-family='"Liberation Serif", serif' font-size="5.9" fill="#444" text-anchor="end">8.8</text>
<line x1="521.50" y1="430.40" x2="523.30" y2="430.40" stroke="#8a8a8a" stroke-width="0.6"/>
<text x="521.60" y="432.49" font-family='"Liberation Serif", serif' font-size="5.9" fill="#444" text-anchor="end">9.0</text>
<polygon points="523.30,460.95 587.22,513.03 568.61,596.16 490.43,579.05 460.27,513.32" fill="none" stroke="#e8383d" stroke-width="1.3" stroke-linejoin="round"/>
<polygon points="523.30,495.73 532.24,530.90 555.07,577.53 517.77,541.40 466.98,515.50" fill="none" stroke="#1a66dd" stroke-width="1.3" stroke-linejoin="round"/>
<polygon points="523.30,457.66 606.89,506.64 562.81,588.17 481.31,591.60 435.24,505.19" fill="none" stroke="#2ca55a" stroke-width="1.3" stroke-linejoin="round"/>
<rect x="521.00" y="458.65" width="4.60" height="4.60" fill="#e8383d"/>
<rect x="584.92" y="510.73" width="4.60" height="4.60" fill="#e8383d"/>
<rect x="566.31" y="593.86" width="4.60" height="4.60" fill="#e8383d"/>
<rect x="488.13" y="576.75" width="4.60" height="4.60" fill="#e8383d"/>
<rect x="457.97" y="511.02" width="4.60" height="4.60" fill="#e8383d"/>
<circle cx="523.30" cy="495.73" r="2.3" fill="#1a66dd" stroke="none" stroke-width="0.6"/>
<circle cx="532.24" cy="530.90" r="2.3" fill="#1a66dd" stroke="none" stroke-width="0.6"/>
<circle cx="555.07" cy="577.53" r="2.3" fill="#1a66dd" stroke="none" stroke-width="0.6"/>
<circle cx="517.77" cy="541.40" r="2.3" fill="#1a66dd" stroke="none" stroke-width="0.6"/>
<circle cx="466.98" cy="515.50" r="2.3" fill="#1a66dd" stroke="none" stroke-width="0.6"/>
<polygon points="523.30,454.76 520.60,459.56 526.00,459.56" fill="#2ca55a"/>
<polygon points="606.89,503.74 604.19,508.54 609.59,508.54" fill="#2ca55a"/>
<polygon points="562.81,585.27 560.11,590.07 565.51,590.07" fill="#2ca55a"/>
<polygon points="481.31,588.70 478.61,593.50 484.01,593.50" fill="#2ca55a"/>
<polygon points="435.24,502.29 432.54,507.09 437.94,507.09" fill="#2ca55a"/>
<text x="523.30" y="420.09" font-family='"Liberation Serif", serif' font-size="8.4" fill="#222" text-anchor="middle" stroke="#222" stroke-width="0.15">Color</text>
<text x="627.00" y="503.69" font-family='"Liberation Serif", serif' font-size="8.4" fill="#222" text-anchor="start" stroke="#222" stroke-width="0.15">Odor</text>
<text x="598.00" y="625.69" font-family='"Liberation Serif", serif' font-size="8.4" fill="#222" text-anchor="middle" stroke="#222" stroke-width="0.15">Texture</text>
<text x="451.90" y="625.69" font-family='"Liberation Serif", serif' font-size="8.4" fill="#222" text-anchor="middle" stroke="#222" stroke-width="0.15">Taste</text>
<text x="392.00" y="496.69" font-family='"Liberation Serif", serif' font-size="8.4" fill="#222" text-anchor="middle" stroke="#222" stroke-width="0.15">Overall</text>
<text x="392.90" y="507.29" font-family='"Liberation Serif", serif' font-size="8.4" fill="#222" text-anchor="middle" stroke="#222" stroke-width="0.15">acceptability</text>
<line x1="614.90" y1="419.60" x2="634.50" y2="419.60" stroke="#e8383d" stroke-width="1.3"/>
<rect x="622.50" y="417.30" width="4.60" height="4.60" fill="#e8383d"/>
<text x="636.60" y="422.29" font-family='"Liberation Serif", serif' font-size="8.4" fill="#222" text-anchor="start" stroke="#222" stroke-width="0.15">Fresh</text>
<line x1="614.90" y1="430.00" x2="634.50" y2="430.00" stroke="#5a8fe6" stroke-width="1.3"/>
<circle cx="624.80" cy="430.00" r="2.4" fill="#1a66dd" stroke="none" stroke-width="0.6"/>
<text x="636.60" y="432.69" font-family='"Liberation Serif", serif' font-size="8.4" fill="#222" text-anchor="start" stroke="#222" stroke-width="0.15">Sterilization</text>
<line x1="614.90" y1="440.40" x2="634.50" y2="440.40" stroke="#2ca55a" stroke-width="1.3"/>
<polygon points="624.80,437.50 622.10,442.30 627.50,442.30" fill="#2ca55a"/>
<text x="636.60" y="443.09" font-family='"Liberation Serif", serif' font-size="8.4" fill="#222" text-anchor="start" stroke="#222" stroke-width="0.15">Fermentation</text>
<text x="3.60" y="17.42" font-family='"Liberation Serif", serif' font-size="18.5" fill="#111" text-anchor="start">I</text>
<text x="341.30" y="17.06" font-family='"Liberation Serif", serif' font-size="18" fill="#111" text-anchor="start" stroke="#111" stroke-width="0.2">J</text>
<text x="3.60" y="431.26" font-family='"Liberation Serif", serif' font-size="18" fill="#111" text-anchor="start" textLength="12.3" lengthAdjust="spacingAndGlyphs">K</text>
<text x="341.60" y="431.06" font-family='"Liberation Serif", serif' font-size="18" fill="#111" text-anchor="start">L</text>
</svg>
</body></html>
